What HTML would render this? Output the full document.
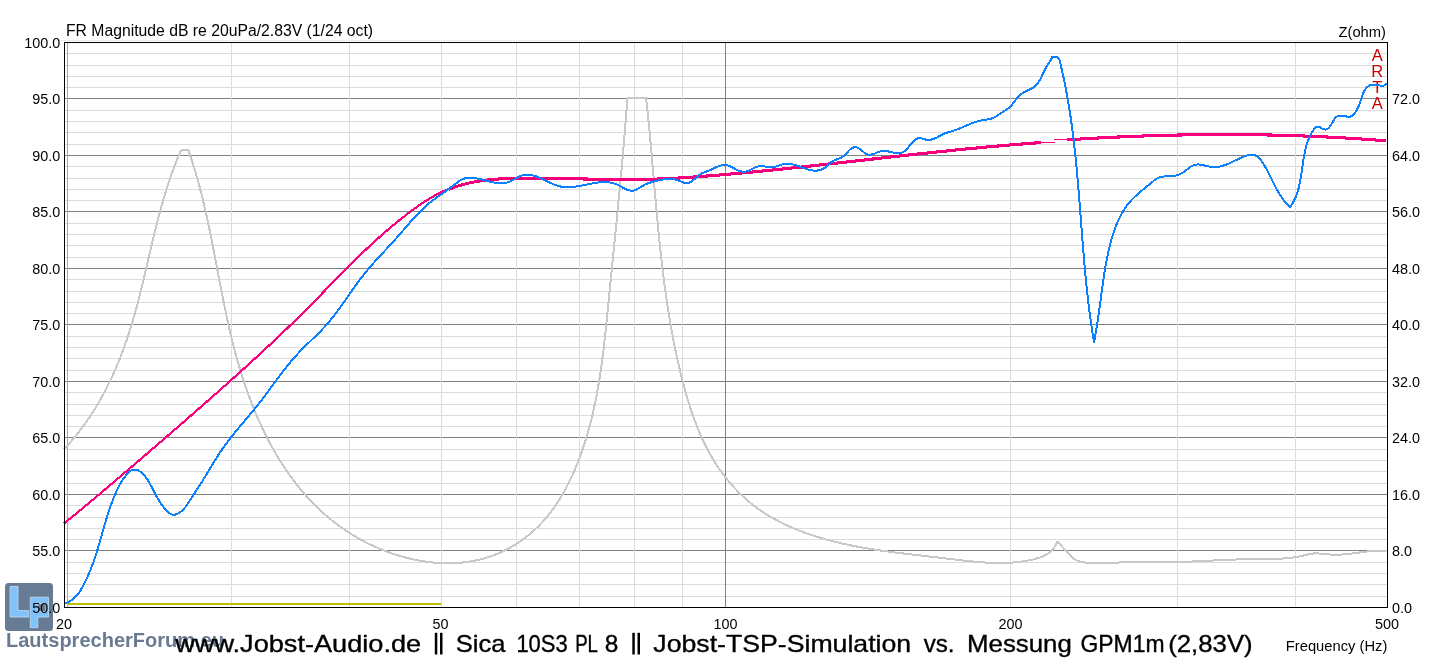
<!DOCTYPE html>
<html><head><meta charset="utf-8"><title>ARTA FR</title>
<style>
html,body{margin:0;padding:0;background:#fff;width:1451px;height:658px;overflow:hidden}
svg{display:block}
text{font-family:"Liberation Sans", sans-serif}
</style></head><body>
<svg width="1451" height="658" viewBox="0 0 1451 658">
<rect width="1451" height="658" fill="#fff"/>

<line x1="56" y1="40.5" x2="1385" y2="40.5" stroke="#ececec" stroke-width="1" shape-rendering="crispEdges"/>
<g shape-rendering="crispEdges" stroke-width="1">
<line x1="65" y1="596.5" x2="1387" y2="596.5" stroke="#dcdcdc"/>
<line x1="65" y1="584.5" x2="1387" y2="584.5" stroke="#dcdcdc"/>
<line x1="65" y1="573.5" x2="1387" y2="573.5" stroke="#dcdcdc"/>
<line x1="65" y1="562.5" x2="1387" y2="562.5" stroke="#dcdcdc"/>
<line x1="65" y1="550.5" x2="1387" y2="550.5" stroke="#808080"/>
<line x1="65" y1="539.5" x2="1387" y2="539.5" stroke="#dcdcdc"/>
<line x1="65" y1="528.5" x2="1387" y2="528.5" stroke="#dcdcdc"/>
<line x1="65" y1="517.5" x2="1387" y2="517.5" stroke="#dcdcdc"/>
<line x1="65" y1="505.5" x2="1387" y2="505.5" stroke="#dcdcdc"/>
<line x1="65" y1="494.5" x2="1387" y2="494.5" stroke="#808080"/>
<line x1="65" y1="483.5" x2="1387" y2="483.5" stroke="#dcdcdc"/>
<line x1="65" y1="471.5" x2="1387" y2="471.5" stroke="#dcdcdc"/>
<line x1="65" y1="460.5" x2="1387" y2="460.5" stroke="#dcdcdc"/>
<line x1="65" y1="449.5" x2="1387" y2="449.5" stroke="#dcdcdc"/>
<line x1="65" y1="437.5" x2="1387" y2="437.5" stroke="#808080"/>
<line x1="65" y1="426.5" x2="1387" y2="426.5" stroke="#dcdcdc"/>
<line x1="65" y1="415.5" x2="1387" y2="415.5" stroke="#dcdcdc"/>
<line x1="65" y1="404.5" x2="1387" y2="404.5" stroke="#dcdcdc"/>
<line x1="65" y1="392.5" x2="1387" y2="392.5" stroke="#dcdcdc"/>
<line x1="65" y1="381.5" x2="1387" y2="381.5" stroke="#808080"/>
<line x1="65" y1="370.5" x2="1387" y2="370.5" stroke="#dcdcdc"/>
<line x1="65" y1="358.5" x2="1387" y2="358.5" stroke="#dcdcdc"/>
<line x1="65" y1="347.5" x2="1387" y2="347.5" stroke="#dcdcdc"/>
<line x1="65" y1="336.5" x2="1387" y2="336.5" stroke="#dcdcdc"/>
<line x1="65" y1="324.5" x2="1387" y2="324.5" stroke="#808080"/>
<line x1="65" y1="313.5" x2="1387" y2="313.5" stroke="#dcdcdc"/>
<line x1="65" y1="302.5" x2="1387" y2="302.5" stroke="#dcdcdc"/>
<line x1="65" y1="291.5" x2="1387" y2="291.5" stroke="#dcdcdc"/>
<line x1="65" y1="279.5" x2="1387" y2="279.5" stroke="#dcdcdc"/>
<line x1="65" y1="268.5" x2="1387" y2="268.5" stroke="#808080"/>
<line x1="65" y1="257.5" x2="1387" y2="257.5" stroke="#dcdcdc"/>
<line x1="65" y1="245.5" x2="1387" y2="245.5" stroke="#dcdcdc"/>
<line x1="65" y1="234.5" x2="1387" y2="234.5" stroke="#dcdcdc"/>
<line x1="65" y1="223.5" x2="1387" y2="223.5" stroke="#dcdcdc"/>
<line x1="65" y1="211.5" x2="1387" y2="211.5" stroke="#808080"/>
<line x1="65" y1="200.5" x2="1387" y2="200.5" stroke="#dcdcdc"/>
<line x1="65" y1="189.5" x2="1387" y2="189.5" stroke="#dcdcdc"/>
<line x1="65" y1="178.5" x2="1387" y2="178.5" stroke="#dcdcdc"/>
<line x1="65" y1="166.5" x2="1387" y2="166.5" stroke="#dcdcdc"/>
<line x1="65" y1="155.5" x2="1387" y2="155.5" stroke="#808080"/>
<line x1="65" y1="144.5" x2="1387" y2="144.5" stroke="#dcdcdc"/>
<line x1="65" y1="132.5" x2="1387" y2="132.5" stroke="#dcdcdc"/>
<line x1="65" y1="121.5" x2="1387" y2="121.5" stroke="#dcdcdc"/>
<line x1="65" y1="110.5" x2="1387" y2="110.5" stroke="#dcdcdc"/>
<line x1="65" y1="98.5" x2="1387" y2="98.5" stroke="#808080"/>
<line x1="65" y1="87.5" x2="1387" y2="87.5" stroke="#dcdcdc"/>
<line x1="65" y1="76.5" x2="1387" y2="76.5" stroke="#dcdcdc"/>
<line x1="65" y1="65.5" x2="1387" y2="65.5" stroke="#dcdcdc"/>
<line x1="65" y1="53.5" x2="1387" y2="53.5" stroke="#dcdcdc"/>
<line x1="231.5" y1="43" x2="231.5" y2="607" stroke="#dcdcdc"/>
<line x1="349.5" y1="43" x2="349.5" y2="607" stroke="#dcdcdc"/>
<line x1="441.5" y1="43" x2="441.5" y2="607" stroke="#dcdcdc"/>
<line x1="516.5" y1="43" x2="516.5" y2="607" stroke="#dcdcdc"/>
<line x1="579.5" y1="43" x2="579.5" y2="607" stroke="#dcdcdc"/>
<line x1="634.5" y1="43" x2="634.5" y2="607" stroke="#dcdcdc"/>
<line x1="682.5" y1="43" x2="682.5" y2="607" stroke="#dcdcdc"/>
<line x1="1010.5" y1="43" x2="1010.5" y2="607" stroke="#dcdcdc"/>
<line x1="1177.5" y1="43" x2="1177.5" y2="607" stroke="#dcdcdc"/>
<line x1="1295.5" y1="43" x2="1295.5" y2="607" stroke="#dcdcdc"/>
<line x1="725.5" y1="43" x2="725.5" y2="607" stroke="#808080"/>
</g>
<g shape-rendering="crispEdges"><rect x="67" y="43" width="1" height="564" fill="#bebe00"/><rect x="67" y="603" width="374" height="2" fill="#bebe00"/></g>
<text x="1377.3" y="61.1" font-size="16.5" text-anchor="middle" fill="#c80000" style="font-family:Liberation Sans">A</text>
<text x="1377.3" y="76.9" font-size="16.5" text-anchor="middle" fill="#c80000" style="font-family:Liberation Sans">R</text>
<text x="1377.3" y="92.5" font-size="16.5" text-anchor="middle" fill="#c80000" style="font-family:Liberation Sans">T</text>
<text x="1377.3" y="108.8" font-size="16.5" text-anchor="middle" fill="#c80000" style="font-family:Liberation Sans">A</text>
<path d="M64.00,449.30 C64.35,448.93 65.40,447.81 66.09,447.05 C66.78,446.30 67.47,445.54 68.15,444.78 C68.83,444.02 69.50,443.26 70.17,442.50 C70.84,441.73 71.50,440.96 72.16,440.19 C72.81,439.42 73.47,438.64 74.11,437.86 C74.76,437.08 75.40,436.30 76.03,435.52 C76.67,434.73 77.30,433.94 77.92,433.15 C78.55,432.36 79.16,431.57 79.78,430.77 C80.39,429.97 81.00,429.17 81.60,428.37 C82.20,427.57 82.80,426.76 83.39,425.95 C83.99,425.14 84.57,424.33 85.15,423.52 C85.74,422.70 86.31,421.88 86.88,421.06 C87.45,420.24 88.02,419.42 88.58,418.59 C89.14,417.77 89.70,416.94 90.25,416.11 C90.80,415.28 91.35,414.44 91.89,413.61 C92.43,412.77 92.97,411.93 93.50,411.09 C94.03,410.25 94.56,409.40 95.08,408.55 C95.60,407.71 96.12,406.86 96.63,406.01 C97.15,405.15 97.65,404.30 98.16,403.44 C98.66,402.58 99.16,401.72 99.65,400.86 C100.15,400.00 100.64,399.14 101.12,398.27 C101.61,397.40 102.09,396.53 102.56,395.66 C103.04,394.79 103.51,393.92 103.98,393.04 C104.44,392.16 104.91,391.29 105.37,390.41 C105.82,389.53 106.28,388.64 106.73,387.76 C107.18,386.87 107.62,385.99 108.07,385.10 C108.51,384.21 108.94,383.32 109.38,382.42 C109.81,381.53 110.24,380.63 110.67,379.74 C111.09,378.84 111.51,377.94 111.93,377.04 C112.35,376.13 112.76,375.23 113.17,374.33 C113.58,373.42 113.98,372.51 114.38,371.60 C114.78,370.69 115.18,369.78 115.58,368.87 C115.97,367.96 116.36,367.04 116.75,366.13 C117.13,365.21 117.51,364.29 117.89,363.37 C118.27,362.45 118.65,361.53 119.02,360.61 C119.39,359.68 119.76,358.76 120.12,357.83 C120.49,356.90 120.85,355.97 121.20,355.04 C121.56,354.11 121.92,353.18 122.27,352.25 C122.62,351.32 122.96,350.38 123.31,349.44 C123.65,348.51 123.99,347.57 124.33,346.63 C124.67,345.69 125.00,344.75 125.33,343.81 C125.66,342.87 125.99,341.92 126.32,340.98 C126.64,340.03 126.96,339.09 127.28,338.14 C127.60,337.19 127.91,336.24 128.22,335.29 C128.54,334.34 128.85,333.39 129.15,332.44 C129.46,331.49 129.76,330.53 130.06,329.58 C130.36,328.62 130.66,327.67 130.96,326.71 C131.25,325.75 131.54,324.80 131.83,323.84 C132.12,322.88 132.41,321.92 132.69,320.96 C132.97,319.99 133.26,319.03 133.53,318.07 C133.81,317.11 134.09,316.14 134.36,315.18 C134.64,314.21 134.91,313.24 135.18,312.28 C135.45,311.31 135.71,310.34 135.98,309.37 C136.24,308.41 136.51,307.44 136.77,306.47 C137.03,305.50 137.29,304.52 137.54,303.55 C137.80,302.58 138.06,301.61 138.31,300.64 C138.56,299.66 138.81,298.69 139.06,297.72 C139.31,296.74 139.56,295.77 139.81,294.79 C140.06,293.81 140.30,292.84 140.55,291.86 C140.79,290.89 141.03,289.91 141.27,288.93 C141.51,287.95 141.75,286.98 141.99,286.00 C142.23,285.02 142.47,284.04 142.71,283.06 C142.94,282.08 143.18,281.10 143.41,280.12 C143.65,279.14 143.88,278.16 144.12,277.18 C144.35,276.20 144.58,275.22 144.81,274.24 C145.05,273.26 145.28,272.28 145.51,271.30 C145.74,270.32 145.97,269.33 146.20,268.35 C146.43,267.37 146.66,266.39 146.89,265.41 C147.12,264.43 147.34,263.44 147.57,262.46 C147.80,261.48 148.03,260.50 148.26,259.52 C148.49,258.54 148.72,257.55 148.94,256.57 C149.17,255.59 149.40,254.61 149.63,253.63 C149.86,252.65 150.09,251.67 150.32,250.68 C150.55,249.70 150.78,248.72 151.01,247.74 C151.24,246.76 151.47,245.78 151.70,244.80 C151.93,243.82 152.16,242.84 152.40,241.86 C152.63,240.88 152.86,239.90 153.10,238.92 C153.33,237.95 153.57,236.97 153.80,235.99 C154.04,235.01 154.27,234.03 154.51,233.06 C154.75,232.08 154.99,231.10 155.23,230.13 C155.47,229.15 155.71,228.18 155.96,227.20 C156.20,226.23 156.44,225.25 156.69,224.28 C156.93,223.30 157.18,222.33 157.43,221.36 C157.68,220.39 157.93,219.42 158.18,218.44 C158.43,217.47 158.69,216.50 158.94,215.53 C159.20,214.56 159.46,213.60 159.72,212.63 C159.98,211.66 160.24,210.69 160.50,209.73 C160.76,208.76 161.03,207.80 161.30,206.83 C161.57,205.87 161.84,204.90 162.11,203.94 C162.38,202.98 162.65,202.02 162.93,201.06 C163.21,200.10 163.49,199.14 163.77,198.18 C164.05,197.22 164.34,196.27 164.62,195.31 C164.91,194.35 165.20,193.40 165.49,192.44 C165.79,191.49 166.08,190.54 166.38,189.59 C166.68,188.64 166.98,187.69 167.29,186.74 C167.59,185.79 167.90,184.84 168.21,183.90 C168.52,182.95 168.83,182.00 169.15,181.06 C169.47,180.12 169.79,179.18 170.11,178.24 C170.44,177.29 170.77,176.36 171.10,175.42 C171.43,174.48 171.76,173.54 172.10,172.61 C172.44,171.68 172.78,170.74 173.13,169.81 C173.47,168.88 173.82,167.95 174.18,167.02 C174.53,166.09 174.89,165.17 175.25,164.24 C175.61,163.32 175.98,162.39 176.35,161.47 C176.72,160.55 177.09,159.63 177.47,158.71 C177.85,157.79 178.23,156.88 178.62,155.96 C179.00,155.05 179.40,154.14 179.79,153.23 C180.19,152.31 180.79,150.95 180.99,150.50 L188.30,150.00 C188.47,150.48 188.97,151.90 189.30,152.86 C189.63,153.81 189.95,154.77 190.28,155.72 C190.60,156.68 190.92,157.63 191.23,158.59 C191.54,159.54 191.86,160.50 192.16,161.46 C192.47,162.41 192.78,163.37 193.08,164.33 C193.38,165.29 193.68,166.25 193.97,167.21 C194.27,168.17 194.56,169.13 194.85,170.09 C195.13,171.05 195.42,172.01 195.70,172.97 C195.99,173.93 196.26,174.89 196.54,175.85 C196.82,176.81 197.09,177.78 197.36,178.74 C197.63,179.70 197.90,180.66 198.17,181.63 C198.43,182.59 198.70,183.56 198.96,184.52 C199.22,185.49 199.48,186.45 199.73,187.42 C199.99,188.38 200.24,189.35 200.49,190.31 C200.74,191.28 200.99,192.25 201.23,193.21 C201.48,194.18 201.72,195.15 201.96,196.11 C202.21,197.08 202.44,198.05 202.68,199.02 C202.92,199.99 203.15,200.95 203.38,201.92 C203.62,202.89 203.85,203.86 204.08,204.83 C204.30,205.80 204.53,206.77 204.76,207.74 C204.98,208.71 205.20,209.68 205.42,210.65 C205.65,211.62 205.86,212.60 206.08,213.57 C206.30,214.54 206.52,215.51 206.73,216.48 C206.94,217.45 207.16,218.43 207.37,219.40 C207.58,220.37 207.79,221.34 208.00,222.32 C208.20,223.29 208.41,224.26 208.62,225.24 C208.82,226.21 209.03,227.19 209.23,228.16 C209.43,229.13 209.63,230.11 209.83,231.08 C210.03,232.06 210.23,233.03 210.43,234.01 C210.63,234.98 210.83,235.96 211.02,236.93 C211.22,237.91 211.42,238.88 211.61,239.86 C211.80,240.83 212.00,241.81 212.19,242.79 C212.38,243.76 212.57,244.74 212.77,245.71 C212.96,246.69 213.15,247.67 213.34,248.64 C213.53,249.62 213.72,250.60 213.91,251.57 C214.09,252.55 214.28,253.53 214.47,254.51 C214.66,255.48 214.85,256.46 215.03,257.44 C215.22,258.42 215.41,259.39 215.59,260.37 C215.78,261.35 215.97,262.33 216.15,263.30 C216.34,264.28 216.52,265.26 216.71,266.24 C216.89,267.22 217.08,268.19 217.27,269.17 C217.45,270.15 217.64,271.13 217.82,272.11 C218.01,273.08 218.20,274.06 218.38,275.04 C218.57,276.02 218.75,277.00 218.94,277.98 C219.13,278.95 219.31,279.93 219.50,280.91 C219.69,281.89 219.88,282.87 220.07,283.85 C220.25,284.82 220.44,285.80 220.63,286.78 C220.82,287.76 221.01,288.74 221.20,289.72 C221.39,290.69 221.58,291.67 221.77,292.65 C221.97,293.63 222.16,294.61 222.35,295.59 C222.55,296.56 222.74,297.54 222.94,298.52 C223.13,299.50 223.33,300.48 223.52,301.45 C223.72,302.43 223.92,303.41 224.12,304.39 C224.32,305.37 224.52,306.34 224.72,307.32 C224.92,308.30 225.12,309.28 225.33,310.25 C225.53,311.23 225.74,312.21 225.94,313.19 C226.15,314.16 226.36,315.14 226.57,316.12 C226.78,317.09 226.99,318.07 227.20,319.05 C227.41,320.02 227.63,321.00 227.84,321.98 C228.06,322.95 228.28,323.93 228.50,324.90 C228.72,325.88 228.94,326.86 229.16,327.83 C229.38,328.81 229.61,329.78 229.83,330.76 C230.06,331.73 230.29,332.71 230.52,333.68 C230.75,334.66 230.98,335.63 231.22,336.61 C231.45,337.58 231.69,338.56 231.92,339.53 C232.16,340.50 232.40,341.48 232.65,342.45 C232.89,343.43 233.14,344.40 233.38,345.37 C233.63,346.34 233.88,347.32 234.14,348.29 C234.39,349.26 234.64,350.23 234.90,351.21 C235.16,352.18 235.42,353.15 235.68,354.12 C235.94,355.09 236.21,356.06 236.48,357.03 C236.75,358.01 237.02,358.98 237.29,359.95 C237.57,360.92 237.84,361.89 238.12,362.86 C238.40,363.82 238.68,364.79 238.97,365.76 C239.25,366.73 239.54,367.70 239.83,368.67 C240.12,369.63 240.42,370.60 240.71,371.57 C241.01,372.53 241.31,373.50 241.61,374.46 C241.92,375.43 242.22,376.39 242.53,377.36 C242.84,378.32 243.15,379.28 243.47,380.24 C243.78,381.21 244.10,382.17 244.42,383.13 C244.74,384.09 245.06,385.04 245.39,386.00 C245.72,386.96 246.05,387.92 246.38,388.87 C246.72,389.83 247.05,390.78 247.39,391.74 C247.73,392.69 248.08,393.64 248.42,394.59 C248.77,395.55 249.12,396.49 249.47,397.44 C249.82,398.39 250.18,399.34 250.54,400.28 C250.90,401.23 251.26,402.17 251.63,403.12 C251.99,404.06 252.36,405.00 252.74,405.94 C253.11,406.88 253.49,407.82 253.87,408.76 C254.25,409.69 254.63,410.63 255.01,411.56 C255.40,412.49 255.79,413.42 256.18,414.35 C256.58,415.28 256.98,416.21 257.38,417.14 C257.78,418.06 258.18,418.99 258.59,419.91 C259.00,420.83 259.41,421.75 259.82,422.67 C260.24,423.59 260.66,424.50 261.08,425.42 C261.50,426.33 261.93,427.24 262.35,428.15 C262.78,429.06 263.22,429.97 263.65,430.88 C264.09,431.78 264.53,432.69 264.98,433.59 C265.42,434.49 265.87,435.39 266.32,436.28 C266.77,437.18 267.23,438.07 267.69,438.96 C268.15,439.85 268.61,440.74 269.08,441.63 C269.54,442.51 270.01,443.40 270.49,444.28 C270.96,445.16 271.44,446.04 271.93,446.91 C272.41,447.79 272.89,448.66 273.39,449.53 C273.88,450.40 274.37,451.27 274.87,452.13 C275.37,452.99 275.87,453.86 276.38,454.71 C276.88,455.57 277.39,456.43 277.91,457.28 C278.42,458.13 278.94,458.98 279.47,459.83 C279.99,460.67 280.52,461.52 281.05,462.36 C281.58,463.20 282.11,464.03 282.65,464.87 C283.19,465.70 283.74,466.53 284.28,467.36 C284.83,468.18 285.38,469.01 285.94,469.83 C286.50,470.65 287.06,471.46 287.62,472.28 C288.19,473.09 288.76,473.90 289.33,474.71 C289.90,475.51 290.48,476.32 291.07,477.11 C291.65,477.91 292.23,478.71 292.83,479.50 C293.42,480.29 294.01,481.08 294.61,481.86 C295.21,482.65 295.82,483.43 296.43,484.20 C297.03,484.98 297.65,485.75 298.27,486.52 C298.88,487.29 299.51,488.05 300.13,488.81 C300.76,489.57 301.39,490.33 302.03,491.08 C302.66,491.84 303.31,492.58 303.95,493.33 C304.60,494.07 305.25,494.81 305.90,495.55 C306.56,496.28 307.21,497.01 307.88,497.74 C308.54,498.47 309.21,499.19 309.88,499.91 C310.56,500.63 311.24,501.34 311.92,502.05 C312.60,502.76 313.29,503.46 313.98,504.16 C314.68,504.86 315.37,505.56 316.08,506.25 C316.78,506.94 317.48,507.63 318.20,508.31 C318.91,508.99 319.63,509.67 320.35,510.34 C321.07,511.01 321.80,511.68 322.53,512.34 C323.26,513.00 324.00,513.66 324.74,514.31 C325.48,514.97 326.22,515.61 326.98,516.26 C327.73,516.90 328.48,517.54 329.25,518.17 C330.01,518.80 330.77,519.43 331.55,520.05 C332.32,520.67 333.10,521.29 333.88,521.90 C334.66,522.51 335.45,523.12 336.24,523.72 C337.03,524.32 337.83,524.92 338.63,525.51 C339.43,526.10 340.24,526.68 341.06,527.26 C341.87,527.84 342.69,528.41 343.51,528.98 C344.34,529.55 345.16,530.11 346.00,530.67 C346.83,531.23 347.67,531.78 348.52,532.32 C349.36,532.87 350.21,533.41 351.07,533.94 C351.93,534.48 352.79,535.00 353.65,535.53 C354.52,536.05 355.39,536.57 356.27,537.08 C357.14,537.59 358.02,538.09 358.91,538.59 C359.80,539.09 360.69,539.58 361.58,540.06 C362.48,540.55 363.38,541.03 364.28,541.50 C365.18,541.97 366.09,542.44 367.01,542.90 C367.92,543.36 368.84,543.81 369.76,544.26 C370.68,544.70 371.60,545.14 372.53,545.57 C373.46,546.01 374.39,546.43 375.33,546.85 C376.26,547.27 377.20,547.68 378.15,548.09 C379.09,548.49 380.04,548.89 380.99,549.28 C381.94,549.67 382.89,550.05 383.85,550.43 C384.80,550.81 385.76,551.18 386.72,551.54 C387.68,551.90 388.65,552.25 389.62,552.60 C390.58,552.94 391.55,553.28 392.53,553.61 C393.50,553.94 394.47,554.27 395.45,554.58 C396.43,554.90 397.41,555.20 398.39,555.50 C399.37,555.80 400.35,556.09 401.34,556.38 C402.33,556.66 403.31,556.93 404.30,557.20 C405.29,557.47 406.28,557.73 407.28,557.98 C408.27,558.23 409.26,558.47 410.26,558.70 C411.25,558.94 412.25,559.16 413.25,559.38 C414.24,559.59 415.24,559.80 416.24,560.00 C417.24,560.20 418.24,560.39 419.25,560.57 C420.25,560.75 421.25,560.93 422.25,561.09 C423.26,561.25 424.26,561.41 425.26,561.55 C426.27,561.70 427.27,561.83 428.28,561.96 C429.28,562.09 430.29,562.21 431.29,562.32 C432.29,562.42 433.30,562.52 434.30,562.61 C435.31,562.70 436.31,562.78 437.32,562.85 C438.32,562.92 439.32,562.98 440.33,563.03 C441.33,563.09 442.33,563.13 443.33,563.16 C444.33,563.19 445.34,563.21 446.34,563.22 C447.34,563.24 448.33,563.24 449.33,563.23 C450.33,563.22 451.33,563.20 452.32,563.17 C453.32,563.14 454.31,563.10 455.30,563.05 C456.30,563.00 457.29,562.94 458.28,562.87 C459.27,562.80 460.25,562.72 461.24,562.63 C462.23,562.54 463.21,562.44 464.19,562.32 C465.17,562.21 466.15,562.09 467.13,561.95 C468.11,561.82 469.08,561.67 470.06,561.52 C471.03,561.36 472.00,561.19 472.97,561.01 C473.93,560.83 474.90,560.64 475.86,560.44 C476.82,560.24 477.78,560.03 478.74,559.81 C479.69,559.58 480.65,559.35 481.60,559.10 C482.55,558.85 483.49,558.59 484.44,558.32 C485.38,558.05 486.32,557.77 487.26,557.48 C488.19,557.19 489.12,556.88 490.05,556.56 C490.98,556.25 491.91,555.92 492.83,555.58 C493.75,555.24 494.67,554.89 495.58,554.52 C496.49,554.16 497.40,553.78 498.30,553.40 C499.21,553.01 500.11,552.62 501.00,552.21 C501.90,551.80 502.79,551.38 503.67,550.95 C504.56,550.52 505.44,550.08 506.32,549.63 C507.19,549.18 508.07,548.72 508.93,548.25 C509.80,547.77 510.66,547.29 511.51,546.80 C512.37,546.31 513.22,545.80 514.06,545.29 C514.91,544.78 515.75,544.26 516.58,543.72 C517.41,543.19 518.24,542.65 519.06,542.09 C519.88,541.54 520.70,540.98 521.51,540.41 C522.32,539.84 523.12,539.26 523.91,538.67 C524.71,538.08 525.50,537.48 526.28,536.87 C527.07,536.26 527.85,535.64 528.62,535.02 C529.39,534.39 530.15,533.75 530.91,533.11 C531.66,532.47 532.41,531.81 533.15,531.15 C533.90,530.49 534.63,529.82 535.36,529.14 C536.09,528.47 536.81,527.78 537.52,527.08 C538.24,526.39 538.94,525.69 539.64,524.98 C540.34,524.27 541.03,523.55 541.71,522.82 C542.39,522.09 543.06,521.36 543.73,520.62 C544.40,519.88 545.05,519.13 545.70,518.37 C546.35,517.62 546.99,516.85 547.63,516.08 C548.26,515.31 548.89,514.53 549.50,513.75 C550.12,512.96 550.73,512.17 551.33,511.37 C551.93,510.58 552.53,509.77 553.11,508.96 C553.70,508.15 554.28,507.33 554.85,506.51 C555.42,505.69 555.99,504.86 556.54,504.03 C557.10,503.19 557.65,502.36 558.19,501.51 C558.74,500.67 559.27,499.82 559.80,498.96 C560.33,498.11 560.85,497.25 561.37,496.38 C561.88,495.52 562.39,494.65 562.89,493.78 C563.39,492.90 563.89,492.03 564.38,491.14 C564.86,490.26 565.35,489.38 565.82,488.49 C566.30,487.60 566.77,486.70 567.23,485.81 C567.69,484.91 568.15,484.01 568.60,483.11 C569.05,482.20 569.50,481.30 569.94,480.39 C570.38,479.48 570.81,478.56 571.24,477.65 C571.66,476.73 572.09,475.82 572.50,474.90 C572.92,473.98 573.33,473.05 573.73,472.13 C574.14,471.20 574.54,470.28 574.93,469.35 C575.33,468.42 575.72,467.49 576.10,466.56 C576.49,465.63 576.87,464.70 577.24,463.76 C577.61,462.83 577.98,461.89 578.35,460.95 C578.71,460.02 579.07,459.08 579.43,458.14 C579.78,457.20 580.13,456.26 580.47,455.31 C580.82,454.37 581.16,453.43 581.49,452.48 C581.83,451.54 582.16,450.59 582.49,449.64 C582.81,448.69 583.14,447.74 583.45,446.79 C583.77,445.84 584.08,444.89 584.39,443.93 C584.70,442.98 585.00,442.03 585.30,441.07 C585.60,440.11 585.90,439.16 586.19,438.20 C586.48,437.24 586.77,436.28 587.05,435.32 C587.33,434.36 587.61,433.40 587.89,432.43 C588.16,431.47 588.43,430.51 588.70,429.54 C588.97,428.58 589.23,427.61 589.49,426.64 C589.75,425.68 590.00,424.71 590.25,423.74 C590.50,422.77 590.75,421.80 591.00,420.83 C591.24,419.85 591.48,418.88 591.72,417.91 C591.95,416.93 592.19,415.96 592.42,414.98 C592.65,414.01 592.87,413.03 593.10,412.06 C593.32,411.08 593.54,410.10 593.75,409.12 C593.97,408.14 594.18,407.16 594.39,406.18 C594.60,405.20 594.81,404.22 595.01,403.24 C595.22,402.25 595.42,401.27 595.61,400.29 C595.81,399.30 596.01,398.32 596.20,397.33 C596.39,396.35 596.58,395.36 596.76,394.37 C596.95,393.39 597.13,392.40 597.31,391.41 C597.49,390.42 597.67,389.43 597.84,388.44 C598.02,387.45 598.19,386.46 598.36,385.47 C598.53,384.48 598.70,383.49 598.86,382.50 C599.03,381.50 599.19,380.51 599.35,379.52 C599.51,378.52 599.66,377.53 599.82,376.54 C599.97,375.54 600.13,374.55 600.28,373.55 C600.43,372.56 600.58,371.56 600.72,370.56 C600.87,369.57 601.01,368.57 601.15,367.57 C601.30,366.58 601.44,365.58 601.57,364.58 C601.71,363.58 601.85,362.58 601.98,361.58 C602.12,360.59 602.25,359.59 602.38,358.59 C602.51,357.59 602.64,356.59 602.77,355.59 C602.90,354.59 603.02,353.59 603.15,352.59 C603.27,351.58 603.39,350.58 603.51,349.58 C603.63,348.58 603.75,347.58 603.87,346.58 C603.99,345.58 604.11,344.57 604.22,343.57 C604.34,342.57 604.45,341.57 604.57,340.57 C604.68,339.56 604.79,338.56 604.90,337.56 C605.01,336.56 605.12,335.55 605.23,334.55 C605.34,333.55 605.45,332.54 605.56,331.54 C605.66,330.54 605.77,329.53 605.87,328.53 C605.98,327.53 606.08,326.53 606.19,325.52 C606.29,324.52 606.39,323.52 606.50,322.51 C606.60,321.51 606.70,320.51 606.80,319.51 C606.90,318.50 607.00,317.50 607.10,316.50 C607.20,315.50 607.30,314.49 607.40,313.49 C607.50,312.49 607.60,311.49 607.70,310.48 C607.80,309.48 607.90,308.48 607.99,307.48 C608.09,306.48 608.19,305.48 608.29,304.47 C608.39,303.47 608.48,302.47 608.58,301.47 C608.68,300.47 608.78,299.47 608.87,298.47 C608.97,297.47 609.07,296.47 609.17,295.47 C609.27,294.47 609.36,293.47 609.46,292.47 C609.56,291.48 609.66,290.48 609.76,289.48 C609.86,288.48 609.95,287.48 610.05,286.49 C610.15,285.49 610.25,284.49 610.35,283.49 C610.45,282.50 610.55,281.50 610.65,280.50 C610.75,279.51 610.85,278.51 610.94,277.51 C611.04,276.52 611.14,275.52 611.24,274.53 C611.34,273.53 611.44,272.54 611.54,271.54 C611.64,270.55 611.74,269.55 611.84,268.56 C611.94,267.56 612.04,266.57 612.14,265.57 C612.24,264.58 612.34,263.59 612.44,262.59 C612.54,261.60 612.64,260.60 612.73,259.61 C612.83,258.62 612.93,257.62 613.03,256.63 C613.13,255.64 613.23,254.64 613.33,253.65 C613.43,252.66 613.53,251.67 613.63,250.67 C613.73,249.68 613.83,248.69 613.93,247.69 C614.03,246.70 614.13,245.71 614.23,244.72 C614.33,243.73 614.43,242.73 614.53,241.74 C614.63,240.75 614.73,239.76 614.83,238.77 C614.92,237.77 615.02,236.78 615.12,235.79 C615.22,234.80 615.32,233.81 615.42,232.82 C615.52,231.83 615.62,230.83 615.72,229.84 C615.82,228.85 615.91,227.86 616.01,226.87 C616.11,225.88 616.21,224.89 616.31,223.89 C616.41,222.90 616.50,221.91 616.60,220.92 C616.70,219.93 616.80,218.94 616.90,217.95 C617.00,216.96 617.09,215.96 617.19,214.97 C617.29,213.98 617.39,212.99 617.48,212.00 C617.58,211.01 617.68,210.02 617.77,209.03 C617.87,208.03 617.97,207.04 618.07,206.05 C618.16,205.06 618.26,204.07 618.36,203.08 C618.45,202.09 618.55,201.09 618.64,200.10 C618.74,199.11 618.84,198.12 618.93,197.13 C619.03,196.14 619.12,195.14 619.22,194.15 C619.31,193.16 619.41,192.17 619.50,191.17 C619.60,190.18 619.69,189.19 619.79,188.20 C619.88,187.20 619.97,186.21 620.07,185.22 C620.16,184.23 620.26,183.23 620.35,182.24 C620.44,181.25 620.54,180.25 620.63,179.26 C620.72,178.27 620.81,177.27 620.91,176.28 C621.00,175.29 621.09,174.29 621.18,173.30 C621.28,172.30 621.37,171.31 621.46,170.32 C621.55,169.32 621.64,168.33 621.73,167.33 C621.82,166.34 621.91,165.34 622.00,164.35 C622.09,163.35 622.18,162.36 622.27,161.36 C622.36,160.36 622.45,159.37 622.54,158.37 C622.63,157.38 622.72,156.38 622.80,155.38 C622.89,154.39 622.98,153.39 623.07,152.39 C623.16,151.39 623.24,150.40 623.33,149.40 C623.42,148.40 623.50,147.40 623.59,146.40 C623.67,145.41 623.76,144.41 623.85,143.41 C623.93,142.41 624.02,141.41 624.10,140.41 C624.18,139.41 624.27,138.41 624.35,137.41 C624.44,136.41 624.52,135.41 624.60,134.41 C624.69,133.41 624.77,132.41 624.85,131.40 C624.93,130.40 625.01,129.40 625.10,128.40 C625.18,127.39 625.26,126.39 625.34,125.39 C625.42,124.39 625.50,123.38 625.58,122.38 C625.66,121.37 625.74,120.37 625.82,119.37 C625.90,118.36 625.97,117.35 626.05,116.35 C626.13,115.34 626.21,114.34 626.28,113.33 C626.36,112.32 626.44,111.32 626.51,110.31 C626.59,109.30 626.66,108.29 626.74,107.29 C626.81,106.28 626.89,105.27 626.96,104.26 C627.04,103.25 627.11,102.24 627.18,101.23 C627.26,100.22 627.36,98.70 627.40,98.20 L646.10,98.20 C646.16,98.70 646.32,100.19 646.43,101.18 C646.54,102.17 646.65,103.17 646.76,104.16 C646.86,105.16 646.97,106.15 647.08,107.14 C647.18,108.14 647.29,109.13 647.39,110.13 C647.50,111.12 647.60,112.12 647.70,113.11 C647.81,114.11 647.91,115.10 648.01,116.10 C648.11,117.09 648.21,118.09 648.31,119.08 C648.41,120.08 648.51,121.07 648.61,122.07 C648.71,123.06 648.81,124.06 648.90,125.05 C649.00,126.05 649.10,127.05 649.19,128.04 C649.29,129.04 649.38,130.03 649.48,131.03 C649.57,132.03 649.67,133.02 649.76,134.02 C649.86,135.01 649.95,136.01 650.04,137.01 C650.13,138.00 650.23,139.00 650.32,140.00 C650.41,140.99 650.50,141.99 650.59,142.99 C650.68,143.98 650.77,144.98 650.86,145.98 C650.95,146.97 651.04,147.97 651.13,148.97 C651.22,149.96 651.31,150.96 651.40,151.96 C651.49,152.96 651.58,153.95 651.67,154.95 C651.75,155.95 651.84,156.94 651.93,157.94 C652.02,158.94 652.11,159.94 652.19,160.93 C652.28,161.93 652.37,162.93 652.45,163.92 C652.54,164.92 652.63,165.92 652.71,166.92 C652.80,167.91 652.89,168.91 652.97,169.91 C653.06,170.91 653.15,171.90 653.23,172.90 C653.32,173.90 653.40,174.90 653.49,175.89 C653.58,176.89 653.66,177.89 653.75,178.89 C653.83,179.88 653.92,180.88 654.01,181.88 C654.09,182.88 654.18,183.87 654.27,184.87 C654.35,185.87 654.44,186.87 654.52,187.86 C654.61,188.86 654.70,189.86 654.78,190.86 C654.87,191.85 654.96,192.85 655.04,193.85 C655.13,194.85 655.22,195.84 655.31,196.84 C655.39,197.84 655.48,198.84 655.57,199.83 C655.66,200.83 655.75,201.83 655.83,202.82 C655.92,203.82 656.01,204.82 656.10,205.82 C656.19,206.81 656.28,207.81 656.37,208.81 C656.46,209.80 656.55,210.80 656.64,211.80 C656.73,212.79 656.82,213.79 656.91,214.79 C657.00,215.78 657.09,216.78 657.19,217.78 C657.28,218.77 657.37,219.77 657.47,220.77 C657.56,221.76 657.65,222.76 657.75,223.76 C657.84,224.75 657.94,225.75 658.03,226.75 C658.13,227.74 658.22,228.74 658.32,229.73 C658.42,230.73 658.51,231.73 658.61,232.72 C658.71,233.72 658.81,234.71 658.91,235.71 C659.00,236.70 659.10,237.70 659.20,238.69 C659.31,239.69 659.41,240.69 659.51,241.68 C659.61,242.68 659.71,243.67 659.82,244.67 C659.92,245.66 660.02,246.66 660.13,247.65 C660.23,248.64 660.34,249.64 660.45,250.63 C660.55,251.63 660.66,252.62 660.77,253.62 C660.88,254.61 660.99,255.61 661.10,256.60 C661.21,257.59 661.32,258.59 661.43,259.58 C661.54,260.57 661.66,261.57 661.77,262.56 C661.89,263.55 662.00,264.55 662.12,265.54 C662.23,266.53 662.35,267.53 662.47,268.52 C662.59,269.51 662.71,270.50 662.83,271.50 C662.95,272.49 663.07,273.48 663.19,274.47 C663.31,275.46 663.44,276.46 663.56,277.45 C663.69,278.44 663.81,279.43 663.94,280.42 C664.07,281.41 664.20,282.40 664.33,283.40 C664.46,284.39 664.59,285.38 664.72,286.37 C664.85,287.36 664.99,288.35 665.12,289.34 C665.26,290.33 665.39,291.32 665.53,292.31 C665.67,293.30 665.81,294.29 665.95,295.28 C666.09,296.27 666.23,297.26 666.37,298.24 C666.52,299.23 666.66,300.22 666.81,301.21 C666.95,302.20 667.10,303.19 667.25,304.17 C667.40,305.16 667.55,306.15 667.70,307.14 C667.85,308.13 668.01,309.11 668.16,310.10 C668.32,311.09 668.47,312.07 668.63,313.06 C668.79,314.05 668.95,315.03 669.11,316.02 C669.27,317.01 669.43,317.99 669.60,318.98 C669.76,319.96 669.93,320.95 670.10,321.93 C670.27,322.92 670.44,323.90 670.61,324.89 C670.78,325.87 670.95,326.86 671.13,327.84 C671.30,328.82 671.48,329.81 671.66,330.79 C671.84,331.77 672.02,332.76 672.20,333.74 C672.38,334.72 672.56,335.71 672.75,336.69 C672.94,337.67 673.12,338.65 673.31,339.63 C673.50,340.62 673.70,341.60 673.89,342.58 C674.08,343.56 674.28,344.54 674.48,345.52 C674.67,346.50 674.87,347.48 675.07,348.46 C675.28,349.44 675.48,350.42 675.69,351.40 C675.89,352.38 676.10,353.36 676.31,354.34 C676.52,355.32 676.73,356.29 676.94,357.27 C677.16,358.25 677.37,359.23 677.59,360.20 C677.81,361.18 678.03,362.16 678.25,363.14 C678.48,364.11 678.70,365.09 678.93,366.06 C679.16,367.04 679.38,368.02 679.62,368.99 C679.85,369.97 680.08,370.94 680.32,371.92 C680.55,372.89 680.79,373.87 681.03,374.84 C681.27,375.81 681.52,376.79 681.76,377.76 C682.01,378.73 682.26,379.71 682.51,380.68 C682.76,381.65 683.01,382.62 683.26,383.59 C683.52,384.57 683.78,385.54 684.04,386.51 C684.30,387.48 684.56,388.45 684.83,389.42 C685.09,390.39 685.36,391.35 685.63,392.32 C685.91,393.29 686.18,394.26 686.46,395.22 C686.74,396.19 687.02,397.15 687.30,398.12 C687.59,399.08 687.88,400.04 688.17,401.00 C688.46,401.96 688.75,402.92 689.05,403.88 C689.35,404.84 689.65,405.80 689.96,406.75 C690.27,407.71 690.58,408.66 690.89,409.62 C691.20,410.57 691.52,411.52 691.85,412.47 C692.17,413.42 692.49,414.37 692.83,415.31 C693.16,416.26 693.49,417.20 693.83,418.15 C694.17,419.09 694.52,420.03 694.86,420.97 C695.21,421.90 695.57,422.84 695.93,423.77 C696.28,424.71 696.65,425.64 697.02,426.57 C697.38,427.49 697.76,428.42 698.14,429.35 C698.51,430.27 698.90,431.19 699.29,432.11 C699.68,433.03 700.07,433.94 700.47,434.86 C700.87,435.77 701.27,436.68 701.68,437.59 C702.10,438.50 702.51,439.40 702.93,440.31 C703.36,441.21 703.78,442.11 704.22,443.00 C704.65,443.90 705.09,444.79 705.54,445.68 C705.98,446.57 706.44,447.46 706.90,448.34 C707.35,449.22 707.82,450.10 708.29,450.98 C708.76,451.85 709.24,452.73 709.72,453.59 C710.21,454.46 710.70,455.33 711.20,456.19 C711.69,457.05 712.20,457.91 712.71,458.76 C713.22,459.62 713.74,460.47 714.27,461.31 C714.79,462.16 715.32,463.00 715.86,463.84 C716.40,464.68 716.95,465.51 717.50,466.34 C718.05,467.17 718.61,467.99 719.18,468.81 C719.74,469.63 720.32,470.44 720.90,471.25 C721.48,472.06 722.06,472.87 722.66,473.67 C723.25,474.47 723.85,475.27 724.46,476.06 C725.06,476.84 725.68,477.63 726.30,478.41 C726.92,479.19 727.55,479.96 728.18,480.73 C728.81,481.50 729.45,482.26 730.10,483.02 C730.75,483.77 731.40,484.53 732.06,485.27 C732.72,486.01 733.39,486.75 734.06,487.49 C734.74,488.22 735.42,488.95 736.11,489.67 C736.79,490.39 737.49,491.10 738.19,491.81 C738.89,492.51 739.60,493.21 740.31,493.91 C741.02,494.60 741.74,495.29 742.47,495.97 C743.20,496.65 743.93,497.32 744.67,497.99 C745.41,498.65 746.16,499.31 746.91,499.97 C747.66,500.62 748.42,501.26 749.19,501.90 C749.95,502.53 750.72,503.16 751.50,503.79 C752.28,504.41 753.07,505.02 753.86,505.63 C754.65,506.23 755.45,506.83 756.25,507.42 C757.06,508.01 757.87,508.59 758.69,509.17 C759.50,509.74 760.32,510.31 761.15,510.87 C761.98,511.43 762.82,511.98 763.65,512.53 C764.49,513.07 765.34,513.61 766.19,514.14 C767.04,514.67 767.89,515.19 768.75,515.71 C769.62,516.23 770.48,516.73 771.35,517.24 C772.22,517.74 773.10,518.23 773.98,518.72 C774.86,519.21 775.74,519.69 776.63,520.16 C777.52,520.64 778.41,521.10 779.31,521.57 C780.20,522.03 781.10,522.48 782.01,522.93 C782.91,523.37 783.82,523.82 784.73,524.25 C785.65,524.68 786.56,525.11 787.48,525.53 C788.40,525.95 789.32,526.37 790.25,526.78 C791.18,527.19 792.11,527.59 793.04,527.99 C793.97,528.38 794.90,528.77 795.84,529.16 C796.78,529.54 797.72,529.92 798.66,530.29 C799.61,530.67 800.55,531.03 801.50,531.39 C802.45,531.75 803.40,532.11 804.35,532.46 C805.30,532.81 806.25,533.15 807.21,533.49 C808.16,533.83 809.12,534.16 810.08,534.49 C811.04,534.82 812.00,535.14 812.96,535.45 C813.92,535.77 814.89,536.08 815.85,536.39 C816.82,536.69 817.78,536.99 818.75,537.29 C819.71,537.58 820.68,537.88 821.65,538.16 C822.62,538.45 823.58,538.73 824.55,539.00 C825.52,539.28 826.49,539.55 827.46,539.82 C828.43,540.08 829.40,540.34 830.37,540.60 C831.34,540.86 832.31,541.11 833.27,541.36 C834.24,541.60 835.21,541.85 836.18,542.09 C837.15,542.32 838.12,542.56 839.09,542.79 C840.06,543.02 841.03,543.24 842.00,543.47 C842.96,543.69 843.93,543.91 844.90,544.12 C845.87,544.34 846.84,544.55 847.81,544.75 C848.78,544.96 849.75,545.16 850.72,545.36 C851.69,545.56 852.66,545.75 853.63,545.95 C854.60,546.14 855.57,546.33 856.54,546.51 C857.51,546.70 858.48,546.88 859.45,547.06 C860.42,547.24 861.39,547.41 862.36,547.59 C863.33,547.76 864.30,547.93 865.27,548.10 C866.24,548.26 867.22,548.43 868.19,548.59 C869.16,548.75 870.13,548.91 871.11,549.07 C872.08,549.22 873.05,549.38 874.03,549.53 C875.00,549.68 875.97,549.83 876.95,549.97 C877.92,550.12 878.90,550.26 879.87,550.41 C880.85,550.55 881.83,550.69 882.80,550.83 C883.78,550.97 884.76,551.10 885.73,551.24 C886.71,551.37 887.69,551.51 888.67,551.64 C889.65,551.77 890.63,551.90 891.61,552.03 C892.59,552.15 893.57,552.28 894.55,552.41 C895.53,552.53 896.51,552.65 897.50,552.78 C898.48,552.90 899.46,553.02 900.45,553.14 C901.43,553.26 902.42,553.38 903.40,553.50 C904.39,553.62 905.38,553.74 906.36,553.85 C907.35,553.97 908.34,554.09 909.33,554.20 C910.32,554.32 911.31,554.43 912.30,554.55 C913.29,554.66 914.28,554.78 915.27,554.89 C916.27,555.01 917.26,555.12 918.25,555.23 C919.25,555.35 920.24,555.46 921.24,555.57 C922.24,555.69 923.23,555.80 924.23,555.91 C925.23,556.03 926.23,556.14 927.23,556.26 C928.23,556.37 929.23,556.48 930.24,556.60 C931.24,556.71 932.24,556.83 933.25,556.95 C934.25,557.06 935.26,557.18 936.27,557.30 C937.28,557.41 938.28,557.53 939.29,557.65 C940.30,557.77 941.31,557.89 942.33,558.01 C943.34,558.13 944.35,558.25 945.37,558.38 C946.38,558.50 947.40,558.62 948.41,558.75 C949.43,558.87 950.45,558.99 951.47,559.12 C952.48,559.24 953.50,559.36 954.52,559.49 C955.54,559.61 956.56,559.73 957.58,559.85 C958.60,559.97 959.62,560.09 960.64,560.21 C961.67,560.33 962.69,560.45 963.71,560.56 C964.73,560.67 965.75,560.79 966.77,560.90 C967.79,561.01 968.82,561.11 969.84,561.22 C970.86,561.32 971.88,561.42 972.90,561.52 C973.92,561.62 974.94,561.71 975.96,561.80 C976.98,561.89 978.00,561.98 979.01,562.06 C980.03,562.14 981.05,562.22 982.06,562.30 C983.08,562.37 984.09,562.44 985.11,562.50 C986.12,562.56 987.14,562.62 988.15,562.67 C989.16,562.72 990.17,562.77 991.18,562.81 C992.19,562.85 993.19,562.89 994.20,562.91 C995.20,562.94 996.21,562.96 997.21,562.97 C998.21,562.99 999.21,563.00 1000.21,562.99 C1001.21,562.99 1002.20,562.99 1003.20,562.97 C1004.19,562.95 1005.18,562.93 1006.17,562.90 C1007.16,562.86 1008.15,562.82 1009.14,562.77 C1010.12,562.72 1011.10,562.66 1012.08,562.59 C1013.06,562.53 1014.04,562.45 1015.01,562.36 C1015.98,562.27 1016.96,562.18 1017.92,562.07 C1018.89,561.96 1019.86,561.84 1020.82,561.71 C1021.78,561.59 1022.74,561.45 1023.69,561.30 C1024.65,561.15 1025.60,560.99 1026.55,560.81 C1027.50,560.64 1028.44,560.45 1029.38,560.26 C1030.32,560.06 1031.26,559.85 1032.19,559.63 C1033.13,559.41 1034.06,559.18 1034.98,558.93 C1035.91,558.68 1036.83,558.43 1037.74,558.14 C1038.65,557.86 1039.56,557.57 1040.46,557.25 C1041.35,556.93 1042.23,556.58 1043.10,556.20 C1043.96,555.82 1044.81,555.42 1045.64,554.97 C1046.47,554.53 1047.28,554.05 1048.06,553.52 C1048.84,552.99 1049.60,552.42 1050.33,551.80 C1051.06,551.18 1051.76,550.51 1052.42,549.79 C1053.09,549.06 1053.73,548.28 1054.31,547.45 C1054.92,546.59 1055.48,545.68 1055.98,544.73 C1056.51,543.74 1057.17,542.12 1057.40,541.60 C1057.76,541.95 1058.85,542.95 1059.55,543.67 C1060.26,544.39 1060.94,545.14 1061.61,545.90 C1062.30,546.67 1062.96,547.45 1063.63,548.24 C1064.30,549.02 1064.95,549.82 1065.62,550.60 C1066.29,551.37 1066.95,552.16 1067.64,552.91 C1068.32,553.66 1069.00,554.41 1069.71,555.11 C1070.41,555.81 1071.12,556.50 1071.86,557.13 C1072.60,557.76 1073.35,558.36 1074.14,558.89 C1074.92,559.42 1075.73,559.91 1076.58,560.32 C1077.42,560.74 1078.30,561.08 1079.20,561.38 C1080.10,561.67 1081.04,561.90 1081.98,562.09 C1082.94,562.28 1083.91,562.41 1084.89,562.52 C1085.89,562.63 1086.90,562.69 1087.91,562.74 C1088.93,562.79 1089.96,562.80 1090.99,562.81 C1092.03,562.81 1093.07,562.79 1094.11,562.78 C1095.15,562.77 1096.19,562.75 1097.23,562.73 C1098.27,562.71 1099.30,562.70 1100.34,562.68 C1101.37,562.67 1102.41,562.65 1103.44,562.64 C1104.47,562.63 1105.50,562.61 1106.52,562.60 C1107.55,562.59 1108.57,562.58 1109.60,562.57 C1110.62,562.56 1111.64,562.55 1112.66,562.54 C1113.68,562.54 1114.70,562.53 1115.71,562.52 C1116.73,562.51 1117.74,562.51 1118.76,562.50 C1119.77,562.49 1120.78,562.49 1121.79,562.48 C1122.80,562.48 1123.81,562.47 1124.82,562.47 C1125.83,562.46 1126.83,562.46 1127.84,562.45 C1128.84,562.45 1129.85,562.44 1130.85,562.44 C1131.85,562.44 1132.85,562.43 1133.85,562.43 C1134.85,562.42 1135.85,562.42 1136.85,562.41 C1137.85,562.41 1138.85,562.41 1139.84,562.40 C1140.84,562.40 1141.84,562.39 1142.83,562.39 C1143.83,562.38 1144.82,562.38 1145.81,562.37 C1146.81,562.37 1147.80,562.36 1148.79,562.35 C1149.78,562.35 1150.78,562.34 1151.77,562.33 C1152.76,562.33 1153.75,562.32 1154.74,562.31 C1155.73,562.30 1156.72,562.29 1157.71,562.28 C1158.70,562.27 1159.69,562.26 1160.68,562.25 C1161.67,562.24 1162.66,562.23 1163.65,562.21 C1164.63,562.20 1165.62,562.19 1166.61,562.17 C1167.60,562.16 1168.59,562.14 1169.58,562.12 C1170.57,562.11 1171.56,562.09 1172.55,562.07 C1173.54,562.05 1174.52,562.03 1175.51,562.01 C1176.50,561.98 1177.49,561.96 1178.48,561.94 C1179.47,561.91 1180.46,561.89 1181.46,561.86 C1182.45,561.83 1183.44,561.80 1184.43,561.77 C1185.42,561.74 1186.41,561.71 1187.41,561.68 C1188.40,561.65 1189.39,561.61 1190.39,561.57 C1191.38,561.54 1192.38,561.50 1193.38,561.46 C1194.37,561.42 1195.37,561.38 1196.37,561.33 C1197.36,561.29 1198.36,561.25 1199.36,561.20 C1200.36,561.15 1201.36,561.11 1202.36,561.06 C1203.36,561.01 1204.36,560.96 1205.37,560.91 C1206.37,560.86 1207.37,560.81 1208.37,560.76 C1209.38,560.71 1210.38,560.66 1211.39,560.60 C1212.39,560.55 1213.40,560.50 1214.40,560.45 C1215.41,560.40 1216.42,560.35 1217.42,560.30 C1218.43,560.25 1219.44,560.20 1220.44,560.15 C1221.45,560.10 1222.46,560.05 1223.47,560.00 C1224.48,559.96 1225.49,559.91 1226.50,559.87 C1227.51,559.82 1228.52,559.78 1229.53,559.74 C1230.54,559.70 1231.55,559.66 1232.56,559.62 C1233.57,559.58 1234.58,559.54 1235.59,559.51 C1236.60,559.48 1237.62,559.45 1238.63,559.42 C1239.64,559.39 1240.65,559.37 1241.66,559.34 C1242.68,559.32 1243.69,559.30 1244.70,559.28 C1245.72,559.27 1246.73,559.25 1247.74,559.24 C1248.75,559.23 1249.77,559.22 1250.78,559.22 C1251.79,559.21 1252.80,559.21 1253.82,559.20 C1254.83,559.20 1255.84,559.19 1256.85,559.19 C1257.86,559.19 1258.87,559.18 1259.88,559.18 C1260.89,559.17 1261.90,559.17 1262.91,559.16 C1263.91,559.15 1264.92,559.15 1265.93,559.13 C1266.93,559.12 1267.94,559.11 1268.94,559.09 C1269.94,559.07 1270.95,559.05 1271.95,559.02 C1272.95,559.00 1273.95,558.97 1274.94,558.93 C1275.94,558.89 1276.93,558.85 1277.93,558.80 C1278.92,558.75 1279.91,558.70 1280.90,558.64 C1281.89,558.58 1282.88,558.51 1283.86,558.43 C1284.85,558.36 1285.83,558.27 1286.81,558.18 C1287.79,558.08 1288.77,557.98 1289.75,557.87 C1290.72,557.76 1291.69,557.63 1292.66,557.50 C1293.63,557.37 1294.60,557.22 1295.56,557.07 C1296.53,556.91 1297.49,556.75 1298.44,556.57 C1299.40,556.39 1300.36,556.20 1301.31,555.99 C1302.26,555.79 1303.20,555.56 1304.15,555.34 C1305.09,555.11 1306.03,554.85 1306.97,554.62 C1307.91,554.40 1308.85,554.16 1309.79,553.99 C1310.74,553.81 1311.68,553.67 1312.63,553.57 C1313.59,553.48 1314.55,553.43 1315.51,553.41 C1316.48,553.40 1317.46,553.43 1318.43,553.48 C1319.41,553.53 1320.40,553.62 1321.38,553.70 C1322.37,553.79 1323.36,553.90 1324.35,554.00 C1325.35,554.11 1326.34,554.22 1327.33,554.31 C1328.32,554.40 1329.31,554.48 1330.30,554.54 C1331.29,554.60 1332.28,554.65 1333.26,554.67 C1334.25,554.70 1335.23,554.71 1336.21,554.71 C1337.19,554.70 1338.18,554.68 1339.15,554.65 C1340.13,554.61 1341.11,554.57 1342.09,554.51 C1343.07,554.45 1344.04,554.38 1345.02,554.29 C1345.99,554.21 1346.97,554.12 1347.94,554.01 C1348.91,553.91 1349.89,553.80 1350.86,553.68 C1351.83,553.56 1352.80,553.43 1353.78,553.30 C1354.75,553.17 1355.72,553.03 1356.70,552.89 C1357.67,552.76 1358.64,552.62 1359.62,552.48 C1360.59,552.34 1361.57,552.20 1362.55,552.07 C1363.53,551.93 1364.51,551.80 1365.49,551.68 C1366.47,551.56 1367.45,551.44 1368.44,551.33 C1369.42,551.22 1370.41,551.12 1371.40,551.03 C1372.39,550.94 1373.38,550.86 1374.38,550.80 C1375.37,550.74 1376.37,550.69 1377.37,550.66 C1378.38,550.63 1379.38,550.61 1380.39,550.62 C1381.40,550.62 1382.42,550.64 1383.43,550.69 C1384.45,550.74 1385.99,550.87 1386.50,550.90" fill="none" stroke="#c8c8c8" stroke-width="2" stroke-linejoin="round" shape-rendering="crispEdges"/>
<path d="M64.00,523.52 C64.83,522.85 67.33,520.82 69.00,519.47 C70.67,518.11 72.33,516.75 74.00,515.38 C75.67,514.01 77.33,512.64 79.00,511.27 C80.67,509.89 82.33,508.51 84.00,507.13 C85.67,505.75 87.33,504.36 89.00,502.97 C90.67,501.58 92.33,500.18 94.00,498.79 C95.67,497.39 97.33,495.99 99.00,494.58 C100.67,493.18 102.33,491.77 104.00,490.36 C105.67,488.95 107.33,487.54 109.00,486.13 C110.67,484.71 112.33,483.30 114.00,481.88 C115.67,480.46 117.33,479.04 119.00,477.62 C120.67,476.20 122.33,474.78 124.00,473.35 C125.67,471.93 127.33,470.50 129.00,469.08 C130.67,467.65 132.33,466.22 134.00,464.80 C135.67,463.37 137.33,461.94 139.00,460.51 C140.67,459.08 142.33,457.65 144.00,456.22 C145.67,454.79 147.33,453.36 149.00,451.93 C150.67,450.49 152.33,449.06 154.00,447.62 C155.67,446.19 157.33,444.75 159.00,443.31 C160.67,441.88 162.33,440.44 164.00,439.00 C165.67,437.56 167.33,436.12 169.00,434.67 C170.67,433.23 172.33,431.79 174.00,430.34 C175.67,428.90 177.33,427.45 179.00,426.00 C180.67,424.55 182.33,423.10 184.00,421.65 C185.67,420.20 187.33,418.75 189.00,417.29 C190.67,415.84 192.33,414.38 194.00,412.92 C195.67,411.46 197.33,410.00 199.00,408.54 C200.67,407.07 202.33,405.61 204.00,404.14 C205.67,402.68 207.33,401.21 209.00,399.74 C210.67,398.27 212.33,396.79 214.00,395.32 C215.67,393.84 217.33,392.37 219.00,390.89 C220.67,389.41 222.33,387.92 224.00,386.44 C225.67,384.96 227.33,383.47 229.00,381.98 C230.67,380.49 232.33,379.00 234.00,377.50 C235.67,376.01 237.33,374.51 239.00,373.01 C240.67,371.51 242.33,370.01 244.00,368.50 C245.67,366.99 247.33,365.48 249.00,363.97 C250.67,362.45 252.33,360.93 254.00,359.41 C255.67,357.88 257.33,356.35 259.00,354.82 C260.67,353.28 262.33,351.75 264.00,350.20 C265.67,348.66 267.33,347.11 269.00,345.55 C270.67,344.00 272.33,342.43 274.00,340.87 C275.67,339.30 277.34,337.72 279.00,336.14 C280.67,334.56 282.34,332.97 284.00,331.38 C285.67,329.78 287.34,328.18 289.00,326.57 C290.67,324.96 292.34,323.34 294.00,321.72 C295.67,320.09 297.34,318.45 299.00,316.81 C300.67,315.17 302.34,313.52 304.00,311.86 C305.67,310.19 307.34,308.52 309.00,306.85 C310.67,305.17 312.34,303.48 314.00,301.78 C315.67,300.08 317.33,298.37 319.00,296.66 C320.67,294.95 322.33,293.23 324.00,291.51 C325.67,289.79 327.33,288.07 329.00,286.35 C330.67,284.63 332.33,282.91 334.00,281.20 C335.67,279.49 337.33,277.78 339.00,276.07 C340.66,274.38 342.33,272.68 344.00,271.00 C345.66,269.32 347.33,267.65 349.00,265.98 C350.66,264.32 352.33,262.67 354.00,261.03 C355.66,259.40 357.33,257.78 359.00,256.16 C360.66,254.56 362.33,252.96 364.00,251.38 C365.66,249.80 367.33,248.23 369.00,246.67 C370.66,245.12 372.33,243.58 374.00,242.06 C375.66,240.54 377.33,239.03 379.00,237.54 C380.66,236.05 382.33,234.57 384.00,233.11 C385.66,231.66 387.33,230.22 389.00,228.80 C390.66,227.38 392.33,225.98 394.00,224.60 C395.66,223.22 397.33,221.86 399.00,220.51 C400.66,219.17 402.33,217.85 404.00,216.55 C405.66,215.25 407.33,213.97 409.00,212.71 C410.66,211.46 412.33,210.23 414.00,209.02 C415.66,207.82 417.33,206.63 419.00,205.48 C420.66,204.34 422.33,203.21 424.00,202.12 C425.66,201.04 427.32,199.99 429.00,198.97 C430.66,197.96 432.32,196.98 434.00,196.05 C435.66,195.12 437.32,194.22 439.00,193.37 C440.66,192.53 442.32,191.72 444.00,190.96 C445.66,190.21 447.33,189.49 449.00,188.82 C450.66,188.15 452.33,187.52 454.00,186.93 C455.66,186.34 457.33,185.79 459.00,185.27 C460.66,184.76 462.33,184.28 464.00,183.83 C465.66,183.39 467.33,182.98 469.00,182.60 C470.66,182.22 472.33,181.87 474.00,181.55 C475.66,181.23 477.33,180.94 479.00,180.67 C480.66,180.40 482.33,180.16 484.00,179.94 C485.67,179.72 487.33,179.53 489.00,179.35 C490.67,179.18 492.33,179.03 494.00,178.89 C495.67,178.75 497.33,178.63 499.00,178.53 C500.67,178.42 502.33,178.34 504.00,178.26 C505.67,178.18 507.33,178.12 509.00,178.06 C510.67,178.01 512.33,177.96 514.00,177.92 C515.67,177.88 517.33,177.85 519.00,177.83 C520.67,177.80 522.33,177.78 524.00,177.76 C525.67,177.74 527.33,177.73 529.00,177.73 C530.67,177.72 532.33,177.72 534.00,177.72 C535.67,177.72 537.33,177.72 539.00,177.73 C540.67,177.74 542.33,177.75 544.00,177.77 C545.67,177.78 547.33,177.80 549.00,177.82 C550.67,177.85 552.33,177.87 554.00,177.90 C555.67,177.92 557.33,177.95 559.00,177.98 C560.67,178.01 562.33,178.04 564.00,178.08 C565.67,178.11 567.33,178.15 569.00,178.18 C570.67,178.22 572.33,178.26 574.00,178.29 C575.67,178.33 577.33,178.37 579.00,178.41 C580.67,178.45 582.33,178.48 584.00,178.52 C585.67,178.56 587.33,178.60 589.00,178.64 C590.67,178.67 592.33,178.71 594.00,178.74 C595.67,178.78 597.33,178.81 599.00,178.84 C600.67,178.88 602.33,178.91 604.00,178.93 C605.67,178.96 607.33,178.99 609.00,179.01 C610.67,179.04 612.33,179.06 614.00,179.08 C615.67,179.09 617.33,179.11 619.00,179.12 C620.67,179.13 622.33,179.14 624.00,179.15 C625.67,179.15 627.33,179.15 629.00,179.15 C630.67,179.14 632.33,179.14 634.00,179.12 C635.67,179.11 637.33,179.09 639.00,179.07 C640.67,179.05 642.33,179.02 644.00,178.99 C645.67,178.95 647.33,178.92 649.00,178.87 C650.67,178.83 652.33,178.78 654.00,178.72 C655.67,178.67 657.33,178.61 659.00,178.54 C660.67,178.48 662.33,178.41 664.00,178.33 C665.67,178.26 667.33,178.18 669.00,178.09 C670.67,178.01 672.33,177.92 674.00,177.83 C675.67,177.74 677.33,177.64 679.00,177.54 C680.67,177.44 682.33,177.34 684.00,177.23 C685.67,177.12 687.33,177.01 689.00,176.90 C690.67,176.78 692.33,176.67 694.00,176.55 C695.67,176.43 697.33,176.30 699.00,176.18 C700.67,176.05 702.33,175.92 704.00,175.79 C705.67,175.66 707.33,175.53 709.00,175.40 C710.67,175.26 712.33,175.13 714.00,174.99 C715.67,174.85 717.33,174.71 719.00,174.57 C720.67,174.43 722.33,174.28 724.00,174.14 C725.67,174.00 727.33,173.85 729.00,173.70 C730.67,173.55 732.33,173.41 734.00,173.26 C735.67,173.11 737.33,172.95 739.00,172.80 C740.67,172.65 742.33,172.49 744.00,172.34 C745.67,172.18 747.33,172.02 749.00,171.86 C750.67,171.71 752.33,171.55 754.00,171.39 C755.67,171.22 757.33,171.06 759.00,170.90 C760.67,170.74 762.33,170.57 764.00,170.41 C765.67,170.24 767.33,170.07 769.00,169.91 C770.67,169.74 772.33,169.57 774.00,169.40 C775.67,169.23 777.33,169.06 779.00,168.89 C780.67,168.72 782.33,168.54 784.00,168.37 C785.67,168.20 787.33,168.02 789.00,167.85 C790.67,167.67 792.33,167.50 794.00,167.32 C795.67,167.14 797.33,166.96 799.00,166.79 C800.67,166.61 802.33,166.43 804.00,166.25 C805.67,166.07 807.33,165.89 809.00,165.71 C810.67,165.53 812.33,165.34 814.00,165.16 C815.67,164.98 817.33,164.80 819.00,164.61 C820.67,164.43 822.33,164.25 824.00,164.06 C825.67,163.88 827.33,163.69 829.00,163.51 C830.67,163.32 832.33,163.14 834.00,162.95 C835.67,162.76 837.33,162.58 839.00,162.39 C840.67,162.20 842.33,162.02 844.00,161.83 C845.67,161.64 847.33,161.45 849.00,161.27 C850.67,161.08 852.33,160.89 854.00,160.70 C855.67,160.52 857.33,160.33 859.00,160.14 C860.67,159.95 862.33,159.76 864.00,159.58 C865.67,159.39 867.33,159.20 869.00,159.01 C870.67,158.82 872.33,158.64 874.00,158.45 C875.67,158.26 877.33,158.07 879.00,157.88 C880.67,157.70 882.33,157.51 884.00,157.32 C885.67,157.14 887.33,156.95 889.00,156.76 C890.67,156.57 892.33,156.39 894.00,156.20 C895.67,156.02 897.33,155.83 899.00,155.64 C900.67,155.46 902.33,155.27 904.00,155.09 C905.67,154.91 907.33,154.72 909.00,154.54 C910.67,154.35 912.33,154.17 914.00,153.99 C915.67,153.81 917.33,153.62 919.00,153.44 C920.67,153.26 922.33,153.08 924.00,152.90 C925.67,152.72 927.33,152.54 929.00,152.36 C930.67,152.19 932.33,152.01 934.00,151.83 C935.67,151.65 937.33,151.48 939.00,151.30 C940.67,151.13 942.33,150.95 944.00,150.78 C945.67,150.61 947.33,150.43 949.00,150.26 C950.67,150.09 952.33,149.92 954.00,149.75 C955.67,149.58 957.33,149.41 959.00,149.24 C960.67,149.08 962.33,148.91 964.00,148.75 C965.67,148.58 967.33,148.42 969.00,148.25 C970.67,148.09 972.33,147.93 974.00,147.77 C975.67,147.61 977.33,147.45 979.00,147.29 C980.67,147.13 982.33,146.98 984.00,146.82 C985.67,146.67 987.33,146.51 989.00,146.36 C990.67,146.21 992.33,146.06 994.00,145.91 C995.67,145.76 997.33,145.61 999.00,145.46 C1000.67,145.32 1002.33,145.17 1004.00,145.03 C1005.67,144.88 1007.33,144.74 1009.00,144.60 C1010.67,144.46 1012.33,144.32 1014.00,144.19 C1015.67,144.05 1017.33,143.92 1019.00,143.78 C1020.67,143.65 1022.33,143.52 1024.00,143.39 C1025.67,143.26 1027.33,143.13 1029.00,143.01 C1030.67,142.88 1032.33,142.76 1034.00,142.63 C1035.67,142.51 1037.64,142.37 1039.00,142.27 C1039.95,142.21 1041.00,142.13 1041.40,142.11" fill="none" stroke="#fa0080" stroke-width="2.2" stroke-linejoin="round" shape-rendering="crispEdges"/>
<path d="M1067.40,139.38 C1068.23,139.33 1070.73,139.17 1072.40,139.06 C1074.07,138.95 1075.73,138.85 1077.40,138.75 C1079.07,138.65 1080.73,138.55 1082.40,138.45 C1084.07,138.35 1085.73,138.25 1087.40,138.15 C1089.07,138.06 1090.73,137.96 1092.40,137.87 C1094.07,137.78 1095.73,137.69 1097.40,137.60 C1099.07,137.51 1100.73,137.42 1102.40,137.33 C1104.07,137.25 1105.73,137.16 1107.40,137.08 C1109.07,137.00 1110.73,136.92 1112.40,136.84 C1114.07,136.76 1115.73,136.68 1117.40,136.60 C1119.07,136.53 1120.73,136.45 1122.40,136.38 C1124.07,136.30 1125.73,136.23 1127.40,136.16 C1129.07,136.09 1130.73,136.03 1132.40,135.96 C1134.07,135.89 1135.73,135.83 1137.40,135.77 C1139.07,135.70 1140.73,135.64 1142.40,135.58 C1144.07,135.52 1145.73,135.47 1147.40,135.41 C1149.07,135.35 1150.73,135.30 1152.40,135.25 C1154.07,135.19 1155.73,135.14 1157.40,135.09 C1159.07,135.05 1160.73,135.00 1162.40,134.95 C1164.07,134.91 1165.73,134.86 1167.40,134.82 C1169.07,134.78 1170.73,134.74 1172.40,134.70 C1174.07,134.66 1175.73,134.63 1177.40,134.59 C1179.07,134.56 1180.73,134.52 1182.40,134.49 C1184.07,134.46 1185.73,134.43 1187.40,134.40 C1189.07,134.38 1190.73,134.35 1192.40,134.33 C1194.07,134.30 1195.73,134.28 1197.40,134.26 C1199.07,134.24 1200.73,134.22 1202.40,134.20 C1204.07,134.19 1205.73,134.17 1207.40,134.16 C1209.07,134.15 1210.73,134.14 1212.40,134.13 C1214.07,134.12 1215.73,134.11 1217.40,134.10 C1219.07,134.10 1220.73,134.09 1222.40,134.09 C1224.07,134.09 1225.73,134.09 1227.40,134.09 C1229.07,134.10 1230.73,134.10 1232.40,134.11 C1234.07,134.11 1235.73,134.12 1237.40,134.13 C1239.07,134.14 1240.73,134.15 1242.40,134.16 C1244.07,134.18 1245.73,134.19 1247.40,134.21 C1249.07,134.23 1250.73,134.25 1252.40,134.27 C1254.07,134.29 1255.73,134.31 1257.40,134.34 C1259.07,134.36 1260.73,134.39 1262.40,134.42 C1264.07,134.45 1265.73,134.48 1267.40,134.51 C1269.07,134.55 1270.73,134.58 1272.40,134.62 C1274.07,134.66 1275.73,134.69 1277.40,134.74 C1279.07,134.78 1280.73,134.82 1282.40,134.87 C1284.07,134.91 1285.73,134.96 1287.40,135.01 C1289.07,135.06 1290.73,135.11 1292.40,135.16 C1294.07,135.21 1295.73,135.27 1297.40,135.33 C1299.07,135.38 1300.73,135.44 1302.40,135.50 C1304.07,135.57 1305.73,135.63 1307.40,135.70 C1309.07,135.76 1310.73,135.83 1312.40,135.90 C1314.07,135.97 1315.73,136.04 1317.40,136.11 C1319.07,136.19 1320.73,136.26 1322.40,136.34 C1324.07,136.42 1325.73,136.50 1327.40,136.58 C1329.07,136.66 1330.73,136.75 1332.40,136.84 C1334.07,136.92 1335.73,137.01 1337.40,137.10 C1339.07,137.19 1340.73,137.28 1342.40,137.38 C1344.07,137.47 1345.73,137.57 1347.40,137.67 C1349.07,137.77 1350.73,137.87 1352.40,137.98 C1354.07,138.08 1355.73,138.19 1357.40,138.29 C1359.07,138.40 1360.73,138.51 1362.40,138.62 C1364.07,138.74 1365.73,138.85 1367.40,138.97 C1369.07,139.08 1370.73,139.20 1372.40,139.32 C1374.07,139.45 1375.73,139.57 1377.40,139.69 C1379.07,139.82 1380.84,139.96 1382.40,140.08 C1383.78,140.19 1385.65,140.34 1386.30,140.39" fill="none" stroke="#fa0080" stroke-width="2.2" stroke-linejoin="round" shape-rendering="crispEdges"/>
<path d="M449.00,189.82 C449.83,189.50 452.33,188.52 454.00,187.93 C455.66,187.34 457.33,186.79 459.00,186.27 C460.66,185.76 462.33,185.28 464.00,184.83 C465.66,184.39 467.33,183.98 469.00,183.60 C470.66,183.22 472.33,182.87 474.00,182.55 C475.66,182.23 477.33,181.94 479.00,181.67 C480.66,181.40 482.33,181.16 484.00,180.94 C485.67,180.72 487.33,180.53 489.00,180.35 C490.67,180.18 492.33,180.03 494.00,179.89 C495.67,179.75 497.33,179.63 499.00,179.53 C500.67,179.42 502.33,179.34 504.00,179.26 C505.67,179.18 507.33,179.12 509.00,179.06 C510.67,179.01 512.33,178.96 514.00,178.92 C515.67,178.88 517.33,178.85 519.00,178.83 C520.67,178.80 522.33,178.78 524.00,178.76 C525.67,178.74 527.33,178.73 529.00,178.73 C530.67,178.72 532.33,178.72 534.00,178.72 C535.67,178.72 537.33,178.72 539.00,178.73 C540.67,178.74 542.33,178.75 544.00,178.77 C545.67,178.78 547.33,178.80 549.00,178.82 C550.67,178.85 552.33,178.87 554.00,178.90 C555.67,178.92 557.33,178.95 559.00,178.98 C560.67,179.01 562.33,179.04 564.00,179.08 C565.67,179.11 567.33,179.15 569.00,179.18 C570.67,179.22 572.33,179.26 574.00,179.29 C575.67,179.33 577.33,179.37 579.00,179.41 C580.67,179.45 582.33,179.48 584.00,179.52 C585.67,179.56 587.33,179.60 589.00,179.64 C590.67,179.67 592.33,179.71 594.00,179.74 C595.67,179.78 597.33,179.81 599.00,179.84 C600.67,179.88 602.33,179.91 604.00,179.93 C605.67,179.96 607.33,179.99 609.00,180.01 C610.67,180.04 612.33,180.06 614.00,180.08 C615.67,180.09 617.33,180.11 619.00,180.12 C620.67,180.13 622.33,180.14 624.00,180.15 C625.67,180.15 627.33,180.15 629.00,180.15 C630.67,180.14 632.33,180.14 634.00,180.12 C635.67,180.11 637.33,180.09 639.00,180.07 C640.67,180.05 642.33,180.02 644.00,179.99 C645.67,179.95 647.33,179.92 649.00,179.87 C650.67,179.83 652.33,179.78 654.00,179.72 C655.67,179.67 657.33,179.61 659.00,179.54 C660.67,179.48 662.33,179.41 664.00,179.33 C665.67,179.26 667.33,179.18 669.00,179.09 C670.67,179.01 672.33,178.92 674.00,178.83 C675.67,178.74 677.33,178.64 679.00,178.54 C680.67,178.44 682.33,178.34 684.00,178.23 C685.67,178.12 687.33,178.01 689.00,177.90 C690.67,177.78 692.33,177.67 694.00,177.55 C695.67,177.43 697.33,177.30 699.00,177.18 C700.67,177.05 702.33,176.92 704.00,176.79 C705.67,176.66 707.33,176.53 709.00,176.40 C710.67,176.26 712.33,176.13 714.00,175.99 C715.67,175.85 717.33,175.71 719.00,175.57 C720.67,175.43 722.33,175.28 724.00,175.14 C725.67,175.00 727.33,174.85 729.00,174.70 C730.67,174.55 732.33,174.41 734.00,174.26 C735.67,174.11 737.33,173.95 739.00,173.80 C740.67,173.65 742.33,173.49 744.00,173.34 C745.67,173.18 747.33,173.02 749.00,172.86 C750.67,172.71 752.33,172.55 754.00,172.39 C755.67,172.22 757.33,172.06 759.00,171.90 C760.67,171.74 762.33,171.57 764.00,171.41 C765.67,171.24 767.33,171.07 769.00,170.91 C770.67,170.74 772.33,170.57 774.00,170.40 C775.67,170.23 777.33,170.06 779.00,169.89 C780.67,169.72 782.33,169.54 784.00,169.37 C785.67,169.20 787.33,169.02 789.00,168.85 C790.67,168.67 792.33,168.50 794.00,168.32 C795.67,168.14 797.33,167.96 799.00,167.79 C800.67,167.61 802.33,167.43 804.00,167.25 C805.67,167.07 807.33,166.89 809.00,166.71 C810.67,166.53 812.33,166.34 814.00,166.16 C815.67,165.98 817.33,165.80 819.00,165.61 C820.67,165.43 822.33,165.25 824.00,165.06 C825.67,164.88 827.33,164.69 829.00,164.51 C830.67,164.32 832.33,164.14 834.00,163.95 C835.67,163.76 837.33,163.58 839.00,163.39 C840.67,163.20 842.33,163.02 844.00,162.83 C845.67,162.64 847.33,162.45 849.00,162.27 C850.67,162.08 852.33,161.89 854.00,161.70 C855.67,161.52 857.33,161.33 859.00,161.14 C860.67,160.95 862.33,160.76 864.00,160.58 C865.67,160.39 867.33,160.20 869.00,160.01 C870.67,159.82 872.33,159.64 874.00,159.45 C875.67,159.26 877.33,159.07 879.00,158.88 C880.67,158.70 882.33,158.51 884.00,158.32 C885.67,158.14 887.33,157.95 889.00,157.76 C890.67,157.57 892.33,157.39 894.00,157.20 C895.67,157.02 897.33,156.83 899.00,156.64 C900.67,156.46 902.33,156.27 904.00,156.09 C905.67,155.91 907.33,155.72 909.00,155.54 C910.67,155.35 912.33,155.17 914.00,154.99 C915.67,154.81 917.33,154.62 919.00,154.44 C920.67,154.26 922.33,154.08 924.00,153.90 C925.67,153.72 927.33,153.54 929.00,153.36 C930.67,153.19 932.33,153.01 934.00,152.83 C935.67,152.65 937.33,152.48 939.00,152.30 C940.67,152.13 942.33,151.95 944.00,151.78 C945.67,151.61 947.33,151.43 949.00,151.26 C950.67,151.09 952.33,150.92 954.00,150.75 C955.67,150.58 957.33,150.41 959.00,150.24 C960.67,150.08 962.33,149.91 964.00,149.75 C965.67,149.58 967.33,149.42 969.00,149.25 C970.67,149.09 972.33,148.93 974.00,148.77 C975.67,148.61 977.33,148.45 979.00,148.29 C980.67,148.13 982.33,147.98 984.00,147.82 C985.67,147.67 987.33,147.51 989.00,147.36 C990.67,147.21 992.33,147.06 994.00,146.91 C995.67,146.76 997.33,146.61 999.00,146.46 C1000.67,146.32 1002.33,146.17 1004.00,146.03 C1005.67,145.88 1007.33,145.74 1009.00,145.60 C1010.67,145.46 1012.33,145.32 1014.00,145.19 C1015.67,145.05 1017.33,144.92 1019.00,144.78 C1020.67,144.65 1022.33,144.52 1024.00,144.39 C1025.67,144.26 1027.33,144.13 1029.00,144.01 C1030.67,143.88 1032.33,143.76 1034.00,143.63 C1035.67,143.51 1037.64,143.37 1039.00,143.27 C1039.95,143.21 1041.00,143.13 1041.40,143.11" fill="none" stroke="#f00078" stroke-width="2" stroke-linejoin="round" shape-rendering="crispEdges"/>
<path d="M1067.40,140.38 C1068.23,140.33 1070.73,140.17 1072.40,140.06 C1074.07,139.95 1075.73,139.85 1077.40,139.75 C1079.07,139.65 1080.73,139.55 1082.40,139.45 C1084.07,139.35 1085.73,139.25 1087.40,139.15 C1089.07,139.06 1090.73,138.96 1092.40,138.87 C1094.07,138.78 1095.73,138.69 1097.40,138.60 C1099.07,138.51 1100.73,138.42 1102.40,138.33 C1104.07,138.25 1105.73,138.16 1107.40,138.08 C1109.07,138.00 1110.73,137.92 1112.40,137.84 C1114.07,137.76 1115.73,137.68 1117.40,137.60 C1119.07,137.53 1120.73,137.45 1122.40,137.38 C1124.07,137.30 1125.73,137.23 1127.40,137.16 C1129.07,137.09 1130.73,137.03 1132.40,136.96 C1134.07,136.89 1135.73,136.83 1137.40,136.77 C1139.07,136.70 1140.73,136.64 1142.40,136.58 C1144.07,136.52 1145.73,136.47 1147.40,136.41 C1149.07,136.35 1150.73,136.30 1152.40,136.25 C1154.07,136.19 1155.73,136.14 1157.40,136.09 C1159.07,136.05 1160.73,136.00 1162.40,135.95 C1164.07,135.91 1165.73,135.86 1167.40,135.82 C1169.07,135.78 1170.73,135.74 1172.40,135.70 C1174.07,135.66 1175.73,135.63 1177.40,135.59 C1179.07,135.56 1180.73,135.52 1182.40,135.49 C1184.07,135.46 1185.73,135.43 1187.40,135.40 C1189.07,135.38 1190.73,135.35 1192.40,135.33 C1194.07,135.30 1195.73,135.28 1197.40,135.26 C1199.07,135.24 1200.73,135.22 1202.40,135.20 C1204.07,135.19 1205.73,135.17 1207.40,135.16 C1209.07,135.15 1210.73,135.14 1212.40,135.13 C1214.07,135.12 1215.73,135.11 1217.40,135.10 C1219.07,135.10 1220.73,135.09 1222.40,135.09 C1224.07,135.09 1225.73,135.09 1227.40,135.09 C1229.07,135.10 1230.73,135.10 1232.40,135.11 C1234.07,135.11 1235.73,135.12 1237.40,135.13 C1239.07,135.14 1240.73,135.15 1242.40,135.16 C1244.07,135.18 1245.73,135.19 1247.40,135.21 C1249.07,135.23 1250.73,135.25 1252.40,135.27 C1254.07,135.29 1255.73,135.31 1257.40,135.34 C1259.07,135.36 1260.73,135.39 1262.40,135.42 C1264.07,135.45 1265.73,135.48 1267.40,135.51 C1269.07,135.55 1270.73,135.58 1272.40,135.62 C1274.07,135.66 1275.73,135.69 1277.40,135.74 C1279.07,135.78 1280.73,135.82 1282.40,135.87 C1284.07,135.91 1285.73,135.96 1287.40,136.01 C1289.07,136.06 1290.73,136.11 1292.40,136.16 C1294.07,136.21 1295.73,136.27 1297.40,136.33 C1299.07,136.38 1300.73,136.44 1302.40,136.50 C1304.07,136.57 1305.73,136.63 1307.40,136.70 C1309.07,136.76 1310.73,136.83 1312.40,136.90 C1314.07,136.97 1315.73,137.04 1317.40,137.11 C1319.07,137.19 1320.73,137.26 1322.40,137.34 C1324.07,137.42 1325.73,137.50 1327.40,137.58 C1329.07,137.66 1330.73,137.75 1332.40,137.84 C1334.07,137.92 1335.73,138.01 1337.40,138.10 C1339.07,138.19 1340.73,138.28 1342.40,138.38 C1344.07,138.47 1345.73,138.57 1347.40,138.67 C1349.07,138.77 1350.73,138.87 1352.40,138.98 C1354.07,139.08 1355.73,139.19 1357.40,139.29 C1359.07,139.40 1360.73,139.51 1362.40,139.62 C1364.07,139.74 1365.73,139.85 1367.40,139.97 C1369.07,140.08 1370.73,140.20 1372.40,140.32 C1374.07,140.45 1375.73,140.57 1377.40,140.69 C1379.07,140.82 1380.84,140.96 1382.40,141.08 C1383.78,141.19 1385.65,141.34 1386.30,141.39" fill="none" stroke="#fa0080" stroke-width="2" stroke-linejoin="round" shape-rendering="crispEdges"/>
<path d="M1041.4,142.5 L1054.9,142.4 M1054.4,139.5 L1067.4,139.3" fill="none" stroke="#fa0080" stroke-width="1.2" shape-rendering="crispEdges"/>
<path d="M64.00,603.60 C64.48,603.45 65.97,603.05 66.90,602.69 C67.82,602.33 68.70,601.91 69.55,601.44 C70.40,600.98 71.21,600.46 71.99,599.89 C72.76,599.33 73.50,598.72 74.21,598.08 C74.93,597.43 75.61,596.74 76.26,596.02 C76.91,595.30 77.54,594.55 78.14,593.77 C78.74,592.99 79.32,592.18 79.87,591.35 C80.43,590.52 80.96,589.67 81.48,588.80 C82.00,587.94 82.50,587.05 82.99,586.16 C83.48,585.26 83.94,584.35 84.41,583.44 C84.87,582.53 85.32,581.62 85.76,580.70 C86.20,579.78 86.63,578.86 87.05,577.93 C87.48,577.01 87.89,576.08 88.29,575.15 C88.70,574.22 89.09,573.28 89.48,572.35 C89.87,571.41 90.25,570.47 90.62,569.53 C90.99,568.59 91.36,567.64 91.72,566.70 C92.08,565.75 92.43,564.80 92.77,563.85 C93.12,562.90 93.46,561.95 93.79,560.99 C94.12,560.04 94.45,559.08 94.77,558.12 C95.09,557.16 95.41,556.20 95.72,555.24 C96.03,554.28 96.34,553.31 96.64,552.35 C96.94,551.38 97.24,550.42 97.53,549.45 C97.83,548.48 98.12,547.51 98.41,546.54 C98.70,545.57 98.98,544.60 99.26,543.63 C99.55,542.66 99.83,541.69 100.11,540.72 C100.39,539.74 100.66,538.77 100.94,537.80 C101.22,536.83 101.49,535.85 101.77,534.88 C102.04,533.91 102.32,532.93 102.59,531.96 C102.87,530.99 103.14,530.02 103.42,529.05 C103.70,528.07 103.97,527.10 104.25,526.13 C104.53,525.16 104.82,524.19 105.10,523.22 C105.38,522.26 105.67,521.29 105.96,520.32 C106.25,519.36 106.54,518.39 106.83,517.43 C107.13,516.47 107.43,515.50 107.73,514.54 C108.04,513.58 108.34,512.63 108.66,511.67 C108.97,510.71 109.29,509.76 109.61,508.81 C109.94,507.86 110.26,506.91 110.60,505.96 C110.94,505.01 111.28,504.07 111.63,503.12 C111.98,502.18 112.33,501.24 112.69,500.31 C113.06,499.37 113.43,498.44 113.81,497.51 C114.19,496.58 114.58,495.65 114.97,494.73 C115.37,493.80 115.77,492.88 116.19,491.97 C116.61,491.05 117.03,490.14 117.46,489.23 C117.90,488.32 118.34,487.42 118.81,486.52 C119.27,485.63 119.74,484.74 120.23,483.86 C120.72,482.99 121.22,482.12 121.75,481.27 C122.28,480.42 122.82,479.58 123.39,478.76 C123.96,477.94 124.55,477.14 125.17,476.36 C125.79,475.58 126.43,474.82 127.10,474.09 C127.77,473.35 128.47,472.64 129.20,471.96 C129.94,471.28 131.12,470.33 131.50,470.00 L137.80,470.00 C138.22,470.29 139.54,471.10 140.34,471.72 C141.14,472.33 141.90,472.99 142.62,473.69 C143.34,474.38 144.01,475.12 144.66,475.87 C145.30,476.63 145.91,477.43 146.50,478.24 C147.08,479.05 147.63,479.89 148.17,480.74 C148.70,481.59 149.21,482.46 149.71,483.33 C150.20,484.21 150.68,485.10 151.15,485.99 C151.62,486.88 152.07,487.78 152.53,488.67 C152.98,489.56 153.42,490.45 153.88,491.33 C154.32,492.20 154.77,493.08 155.23,493.94 C155.69,494.81 156.15,495.66 156.62,496.52 C157.10,497.37 157.58,498.22 158.09,499.07 C158.59,499.92 159.11,500.76 159.65,501.61 C160.20,502.46 160.77,503.31 161.36,504.15 C161.96,505.01 162.58,505.87 163.23,506.72 C163.90,507.59 164.58,508.48 165.30,509.31 C166.03,510.14 166.77,510.98 167.57,511.70 C168.35,512.40 169.15,513.09 170.02,513.59 C170.84,514.07 171.72,514.49 172.61,514.66 C173.50,514.82 174.45,514.79 175.34,514.60 C176.28,514.41 177.22,513.97 178.10,513.49 C179.02,513.01 179.90,512.36 180.73,511.71 C181.56,511.06 182.34,510.34 183.07,509.60 C183.80,508.88 184.48,508.11 185.13,507.33 C185.78,506.55 186.38,505.74 186.97,504.93 C187.55,504.11 188.11,503.28 188.66,502.44 C189.21,501.60 189.73,500.75 190.26,499.91 C190.80,499.06 191.32,498.22 191.86,497.37 C192.39,496.53 192.93,495.69 193.47,494.85 C194.01,494.02 194.55,493.18 195.10,492.34 C195.64,491.51 196.19,490.67 196.73,489.84 C197.27,489.00 197.82,488.17 198.36,487.33 C198.90,486.49 199.45,485.66 199.99,484.81 C200.52,483.97 201.06,483.13 201.60,482.29 C202.13,481.44 202.66,480.59 203.19,479.74 C203.71,478.89 204.24,478.03 204.76,477.18 C205.28,476.32 205.80,475.46 206.32,474.60 C206.84,473.75 207.36,472.89 207.88,472.02 C208.40,471.16 208.91,470.30 209.43,469.44 C209.95,468.58 210.47,467.72 210.99,466.86 C211.50,466.00 212.02,465.14 212.55,464.28 C213.07,463.42 213.59,462.56 214.12,461.71 C214.65,460.85 215.17,460.00 215.71,459.15 C216.24,458.29 216.77,457.45 217.31,456.60 C217.85,455.75 218.40,454.91 218.95,454.07 C219.49,453.23 220.05,452.40 220.61,451.57 C221.17,450.74 221.73,449.91 222.30,449.09 C222.87,448.27 223.45,447.45 224.03,446.64 C224.61,445.83 225.20,445.02 225.79,444.21 C226.39,443.41 226.99,442.61 227.59,441.81 C228.19,441.02 228.80,440.22 229.41,439.43 C230.02,438.64 230.64,437.86 231.25,437.07 C231.87,436.29 232.50,435.51 233.12,434.73 C233.75,433.95 234.37,433.17 235.01,432.40 C235.64,431.63 236.27,430.85 236.91,430.08 C237.54,429.31 238.18,428.54 238.82,427.77 C239.46,427.01 240.10,426.24 240.74,425.47 C241.39,424.71 242.03,423.94 242.67,423.18 C243.32,422.41 243.96,421.65 244.61,420.88 C245.25,420.12 245.90,419.35 246.54,418.59 C247.19,417.82 247.83,417.06 248.48,416.29 C249.12,415.52 249.76,414.76 250.40,413.99 C251.05,413.22 251.69,412.45 252.32,411.68 C252.96,410.91 253.60,410.13 254.23,409.36 C254.87,408.58 255.50,407.81 256.13,407.03 C256.76,406.25 257.38,405.47 258.01,404.68 C258.63,403.90 259.25,403.11 259.87,402.32 C260.48,401.53 261.10,400.74 261.71,399.94 C262.32,399.15 262.92,398.35 263.53,397.55 C264.14,396.75 264.74,395.95 265.34,395.15 C265.94,394.34 266.54,393.54 267.14,392.74 C267.74,391.93 268.34,391.12 268.93,390.32 C269.53,389.51 270.12,388.70 270.72,387.89 C271.31,387.09 271.91,386.28 272.50,385.47 C273.10,384.66 273.69,383.85 274.29,383.05 C274.88,382.24 275.48,381.43 276.08,380.62 C276.67,379.82 277.27,379.01 277.87,378.21 C278.47,377.41 279.07,376.60 279.67,375.80 C280.27,375.00 280.88,374.20 281.48,373.40 C282.09,372.61 282.70,371.81 283.31,371.02 C283.92,370.23 284.54,369.44 285.15,368.65 C285.77,367.86 286.39,367.08 287.02,366.30 C287.64,365.52 288.27,364.74 288.90,363.96 C289.54,363.19 290.17,362.42 290.81,361.65 C291.46,360.89 292.10,360.13 292.75,359.37 C293.40,358.61 294.06,357.86 294.72,357.11 C295.38,356.36 296.05,355.62 296.72,354.88 C297.40,354.14 298.07,353.41 298.76,352.68 C299.45,351.95 300.14,351.23 300.83,350.52 C301.53,349.80 302.23,349.09 302.94,348.38 C303.65,347.67 304.36,346.97 305.07,346.26 C305.78,345.56 306.50,344.86 307.22,344.16 C307.94,343.47 308.66,342.77 309.38,342.08 C310.10,341.38 310.82,340.69 311.54,339.99 C312.26,339.30 312.99,338.60 313.71,337.90 C314.43,337.21 315.14,336.51 315.86,335.81 C316.57,335.11 317.29,334.41 318.00,333.71 C318.70,333.00 319.41,332.29 320.11,331.58 C320.81,330.87 321.51,330.15 322.20,329.43 C322.89,328.71 323.57,327.99 324.25,327.25 C324.92,326.52 325.59,325.78 326.26,325.04 C326.92,324.29 327.57,323.54 328.22,322.78 C328.87,322.03 329.51,321.26 330.14,320.50 C330.77,319.73 331.40,318.95 332.02,318.17 C332.65,317.40 333.26,316.61 333.88,315.83 C334.49,315.04 335.09,314.25 335.70,313.45 C336.30,312.65 336.90,311.85 337.49,311.05 C338.09,310.25 338.68,309.44 339.26,308.64 C339.85,307.83 340.44,307.02 341.02,306.20 C341.60,305.39 342.18,304.57 342.76,303.76 C343.33,302.94 343.91,302.12 344.48,301.30 C345.06,300.48 345.63,299.66 346.20,298.84 C346.78,298.02 347.35,297.19 347.92,296.37 C348.49,295.55 349.07,294.73 349.64,293.91 C350.21,293.08 350.78,292.26 351.36,291.44 C351.93,290.62 352.51,289.80 353.09,288.99 C353.67,288.17 354.25,287.35 354.83,286.54 C355.41,285.72 356.00,284.91 356.58,284.10 C357.17,283.29 357.76,282.48 358.36,281.68 C358.95,280.88 359.55,280.08 360.16,279.28 C360.76,278.48 361.37,277.69 361.98,276.90 C362.59,276.11 363.21,275.32 363.83,274.54 C364.46,273.76 365.09,272.99 365.72,272.21 C366.35,271.44 366.99,270.67 367.63,269.91 C368.28,269.14 368.92,268.38 369.57,267.62 C370.22,266.86 370.88,266.11 371.54,265.36 C372.19,264.60 372.86,263.85 373.52,263.11 C374.18,262.36 374.85,261.61 375.52,260.87 C376.19,260.13 376.86,259.39 377.53,258.65 C378.21,257.91 378.88,257.17 379.56,256.43 C380.23,255.69 380.91,254.96 381.59,254.22 C382.27,253.49 382.95,252.75 383.63,252.02 C384.31,251.28 384.99,250.55 385.67,249.81 C386.35,249.08 387.03,248.34 387.71,247.61 C388.39,246.87 389.07,246.14 389.75,245.40 C390.43,244.66 391.11,243.93 391.78,243.19 C392.46,242.45 393.14,241.71 393.81,240.97 C394.48,240.23 395.15,239.48 395.82,238.74 C396.49,237.99 397.15,237.24 397.82,236.49 C398.48,235.74 399.14,234.99 399.80,234.23 C400.46,233.48 401.11,232.72 401.77,231.96 C402.42,231.21 403.07,230.45 403.73,229.69 C404.38,228.93 405.03,228.17 405.69,227.42 C406.34,226.66 406.99,225.90 407.65,225.15 C408.30,224.39 408.96,223.64 409.62,222.89 C410.27,222.13 410.93,221.38 411.60,220.64 C412.26,219.89 412.93,219.15 413.60,218.41 C414.26,217.67 414.94,216.94 415.62,216.21 C416.29,215.48 416.98,214.76 417.66,214.04 C418.35,213.32 419.04,212.60 419.74,211.90 C420.44,211.19 421.15,210.49 421.86,209.80 C422.57,209.11 423.29,208.42 424.02,207.74 C424.75,207.07 425.48,206.40 426.23,205.74 C426.97,205.08 427.73,204.43 428.49,203.78 C429.25,203.14 430.02,202.51 430.80,201.89 C431.59,201.27 432.38,200.66 433.18,200.05 C433.97,199.45 434.78,198.85 435.59,198.26 C436.41,197.67 437.23,197.09 438.05,196.50 C438.87,195.92 439.70,195.34 440.52,194.76 C441.35,194.18 442.18,193.61 443.01,193.03 C443.85,192.45 444.68,191.87 445.51,191.29 C446.34,190.71 447.17,190.12 447.99,189.53 C448.82,188.94 449.64,188.35 450.46,187.74 C451.28,187.14 452.09,186.53 452.90,185.91 C453.71,185.29 454.50,184.65 455.30,184.02 C456.09,183.39 456.87,182.74 457.68,182.14 C458.47,181.55 459.27,180.96 460.10,180.46 C460.92,179.96 461.76,179.50 462.63,179.15 C463.50,178.79 464.40,178.52 465.31,178.31 C466.22,178.10 467.17,177.97 468.11,177.89 C469.07,177.81 470.04,177.81 471.01,177.84 C472.00,177.87 473.00,177.96 473.99,178.07 C475.00,178.19 476.01,178.36 477.03,178.54 C478.05,178.73 479.07,178.95 480.09,179.18 C481.11,179.40 482.14,179.66 483.16,179.91 C484.18,180.17 485.20,180.43 486.22,180.69 C487.23,180.95 488.24,181.21 489.26,181.45 C490.26,181.70 491.27,181.94 492.28,182.14 C493.27,182.35 494.27,182.55 495.27,182.71 C496.25,182.86 497.24,183.00 498.23,183.08 C499.20,183.16 500.18,183.22 501.15,183.21 C502.12,183.21 503.08,183.16 504.04,183.04 C504.99,182.93 505.94,182.76 506.88,182.52 C507.82,182.28 508.75,181.95 509.67,181.59 C510.60,181.21 511.51,180.75 512.42,180.29 C513.34,179.83 514.24,179.30 515.15,178.81 C516.06,178.32 516.96,177.80 517.88,177.34 C518.78,176.89 519.69,176.43 520.63,176.07 C521.54,175.72 522.47,175.41 523.42,175.19 C524.35,174.98 525.30,174.85 526.25,174.79 C527.20,174.73 528.17,174.76 529.12,174.83 C530.08,174.90 531.05,175.05 532.00,175.24 C532.96,175.43 533.92,175.68 534.87,175.96 C535.82,176.25 536.77,176.58 537.71,176.94 C538.66,177.30 539.60,177.70 540.53,178.11 C541.47,178.52 542.40,178.96 543.33,179.40 C544.26,179.84 545.18,180.31 546.11,180.76 C547.04,181.22 547.97,181.68 548.90,182.13 C549.83,182.58 550.76,183.03 551.69,183.45 C552.62,183.86 553.56,184.27 554.50,184.64 C555.44,185.01 556.38,185.36 557.33,185.66 C558.27,185.96 559.23,186.22 560.19,186.44 C561.15,186.65 562.12,186.81 563.09,186.93 C564.06,187.06 565.04,187.13 566.02,187.18 C567.00,187.22 567.99,187.22 568.98,187.19 C569.97,187.17 570.97,187.10 571.96,187.02 C572.96,186.94 573.97,186.82 574.97,186.69 C575.97,186.56 576.97,186.40 577.98,186.24 C578.99,186.07 579.99,185.89 581.00,185.70 C582.01,185.51 583.02,185.30 584.02,185.10 C585.03,184.89 586.04,184.68 587.05,184.48 C588.05,184.27 589.06,184.06 590.06,183.87 C591.06,183.67 592.06,183.47 593.06,183.30 C594.06,183.12 595.05,182.95 596.05,182.81 C597.03,182.66 598.02,182.53 599.01,182.43 C599.99,182.33 600.97,182.24 601.94,182.19 C602.92,182.14 603.89,182.11 604.86,182.13 C605.82,182.14 606.78,182.18 607.74,182.26 C608.70,182.35 609.65,182.47 610.60,182.64 C611.55,182.81 612.49,183.02 613.43,183.28 C614.37,183.54 615.30,183.85 616.22,184.21 C617.16,184.58 618.08,185.02 618.99,185.47 C619.92,185.93 620.82,186.46 621.73,186.95 C622.64,187.45 623.54,187.98 624.46,188.44 C625.36,188.89 626.26,189.36 627.18,189.71 C628.08,190.05 628.99,190.37 629.90,190.53 C630.81,190.69 631.74,190.78 632.65,190.69 C633.57,190.60 634.51,190.32 635.41,189.98 C636.36,189.61 637.28,189.05 638.20,188.53 C639.15,187.99 640.07,187.35 641.02,186.79 C641.96,186.24 642.89,185.69 643.85,185.20 C644.79,184.72 645.74,184.28 646.69,183.87 C647.64,183.48 648.59,183.12 649.55,182.79 C650.49,182.46 651.45,182.17 652.41,181.89 C653.36,181.62 654.32,181.38 655.28,181.15 C656.23,180.92 657.19,180.72 658.15,180.52 C659.10,180.32 660.06,180.14 661.02,179.96 C661.98,179.78 662.93,179.59 663.89,179.43 C664.85,179.26 665.81,179.08 666.77,178.96 C667.72,178.84 668.68,178.73 669.65,178.71 C670.61,178.69 671.58,178.71 672.54,178.84 C673.52,178.97 674.49,179.21 675.46,179.50 C676.44,179.78 677.41,180.19 678.38,180.56 C679.35,180.93 680.31,181.37 681.27,181.72 C682.22,182.07 683.17,182.44 684.12,182.66 C685.03,182.87 685.97,183.07 686.88,183.05 C687.77,183.03 688.67,182.88 689.52,182.57 C690.40,182.26 691.24,181.70 692.05,181.14 C692.91,180.55 693.70,179.81 694.52,179.10 C695.35,178.38 696.14,177.58 696.98,176.86 C697.80,176.15 698.62,175.42 699.49,174.82 C700.33,174.24 701.21,173.74 702.10,173.29 C702.98,172.86 703.88,172.52 704.79,172.16 C705.69,171.80 706.61,171.51 707.52,171.16 C708.44,170.81 709.35,170.45 710.26,170.05 C711.18,169.65 712.08,169.18 712.99,168.75 C713.91,168.31 714.82,167.83 715.75,167.41 C716.67,167.00 717.60,166.57 718.55,166.24 C719.49,165.90 720.45,165.59 721.43,165.40 C722.40,165.21 723.40,165.08 724.39,165.08 C725.38,165.07 726.39,165.16 727.35,165.36 C728.32,165.55 729.27,165.89 730.19,166.27 C731.12,166.66 732.00,167.18 732.89,167.67 C733.79,168.16 734.66,168.73 735.56,169.22 C736.46,169.70 737.36,170.21 738.30,170.58 C739.23,170.95 740.21,171.27 741.19,171.45 C742.16,171.64 743.19,171.72 744.18,171.69 C745.17,171.66 746.18,171.52 747.15,171.28 C748.11,171.03 749.05,170.64 749.95,170.21 C750.87,169.78 751.72,169.20 752.60,168.72 C753.48,168.25 754.34,167.71 755.25,167.34 C756.15,166.99 757.09,166.72 758.05,166.55 C759.00,166.38 760.00,166.34 760.98,166.32 C761.99,166.31 763.00,166.39 764.02,166.46 C765.04,166.54 766.06,166.67 767.09,166.76 C768.11,166.85 769.13,166.97 770.14,167.00 C771.15,167.04 772.15,167.08 773.13,166.99 C774.10,166.91 775.07,166.75 776.00,166.52 C776.94,166.28 777.83,165.87 778.75,165.56 C779.68,165.25 780.60,164.90 781.55,164.66 C782.51,164.42 783.48,164.24 784.47,164.12 C785.45,164.00 786.45,163.95 787.45,163.95 C788.45,163.95 789.46,164.01 790.45,164.13 C791.45,164.25 792.45,164.44 793.43,164.66 C794.42,164.89 795.40,165.17 796.38,165.47 C797.36,165.77 798.33,166.12 799.30,166.46 C800.27,166.80 801.23,167.18 802.19,167.53 C803.16,167.88 804.12,168.25 805.08,168.58 C806.04,168.91 807.00,169.23 807.97,169.50 C808.93,169.78 809.89,170.03 810.86,170.21 C811.83,170.40 812.80,170.54 813.77,170.60 C814.74,170.67 815.72,170.67 816.68,170.60 C817.63,170.53 818.59,170.39 819.52,170.16 C820.45,169.94 821.37,169.64 822.24,169.25 C823.12,168.86 823.97,168.38 824.77,167.83 C825.58,167.27 826.32,166.57 827.07,165.90 C827.83,165.22 828.52,164.44 829.29,163.77 C830.05,163.11 830.82,162.45 831.66,161.90 C832.48,161.36 833.38,160.93 834.27,160.51 C835.17,160.09 836.11,159.75 837.03,159.38 C837.95,159.01 838.90,158.69 839.80,158.28 C840.70,157.87 841.61,157.46 842.45,156.94 C843.29,156.41 844.09,155.80 844.84,155.12 C845.60,154.43 846.26,153.59 846.97,152.80 C847.67,152.02 848.32,151.15 849.06,150.42 C849.79,149.70 850.53,148.97 851.38,148.46 C852.20,147.96 853.14,147.55 854.07,147.38 C854.99,147.21 856.00,147.21 856.92,147.42 C857.85,147.64 858.76,148.18 859.62,148.73 C860.52,149.30 861.33,150.12 862.18,150.83 C863.02,151.54 863.82,152.37 864.70,152.98 C865.53,153.56 866.38,154.13 867.29,154.42 C868.16,154.70 869.11,154.76 870.03,154.72 C870.97,154.68 871.93,154.42 872.87,154.16 C873.84,153.89 874.81,153.49 875.77,153.12 C876.74,152.76 877.70,152.32 878.67,151.98 C879.62,151.65 880.58,151.30 881.53,151.12 C882.45,150.94 883.38,150.85 884.29,150.86 C885.21,150.88 886.12,151.02 887.03,151.18 C887.96,151.34 888.89,151.60 889.84,151.82 C890.82,152.05 891.82,152.33 892.83,152.53 C893.85,152.75 894.89,152.97 895.92,153.08 C896.94,153.19 897.98,153.28 898.97,153.21 C899.94,153.14 900.93,152.99 901.83,152.68 C902.73,152.36 903.58,151.86 904.37,151.30 C905.19,150.73 905.92,149.99 906.64,149.24 C907.38,148.48 908.06,147.62 908.75,146.78 C909.44,145.93 910.09,145.03 910.78,144.19 C911.46,143.35 912.12,142.50 912.85,141.75 C913.55,141.02 914.26,140.30 915.05,139.75 C915.81,139.21 916.63,138.72 917.50,138.46 C918.37,138.19 919.33,138.10 920.28,138.16 C921.30,138.23 922.38,138.66 923.43,138.92 C924.50,139.18 925.58,139.58 926.63,139.73 C927.64,139.88 928.65,139.91 929.62,139.83 C930.58,139.76 931.52,139.55 932.44,139.30 C933.35,139.04 934.24,138.68 935.12,138.31 C936.01,137.93 936.87,137.47 937.73,137.02 C938.60,136.57 939.45,136.08 940.32,135.62 C941.19,135.16 942.05,134.68 942.94,134.26 C943.83,133.84 944.73,133.45 945.65,133.11 C946.56,132.77 947.51,132.50 948.45,132.22 C949.39,131.93 950.35,131.69 951.29,131.40 C952.24,131.11 953.18,130.81 954.12,130.49 C955.06,130.17 955.99,129.82 956.92,129.47 C957.85,129.11 958.77,128.73 959.70,128.36 C960.62,127.98 961.54,127.58 962.47,127.19 C963.39,126.80 964.31,126.40 965.23,126.01 C966.15,125.62 967.07,125.22 968.00,124.84 C968.92,124.45 969.85,124.07 970.78,123.71 C971.71,123.34 972.64,122.99 973.58,122.65 C974.52,122.32 975.46,122.00 976.41,121.70 C977.36,121.41 978.31,121.14 979.27,120.89 C980.23,120.65 981.20,120.44 982.17,120.25 C983.15,120.07 984.13,119.93 985.11,119.78 C986.09,119.62 987.07,119.50 988.04,119.32 C989.00,119.14 989.96,118.96 990.88,118.69 C991.80,118.42 992.71,118.10 993.58,117.71 C994.46,117.32 995.30,116.83 996.13,116.33 C996.97,115.83 997.78,115.26 998.61,114.71 C999.44,114.16 1000.26,113.57 1001.10,113.02 C1001.94,112.46 1002.81,111.92 1003.66,111.38 C1004.51,110.83 1005.39,110.31 1006.22,109.73 C1007.05,109.17 1007.88,108.60 1008.65,107.96 C1009.41,107.33 1010.14,106.65 1010.83,105.94 C1011.51,105.22 1012.13,104.44 1012.76,103.66 C1013.38,102.88 1013.97,102.06 1014.57,101.26 C1015.18,100.46 1015.77,99.64 1016.41,98.86 C1017.04,98.08 1017.69,97.31 1018.39,96.59 C1019.08,95.88 1019.81,95.18 1020.58,94.55 C1021.35,93.91 1022.17,93.32 1023.01,92.79 C1023.86,92.25 1024.77,91.80 1025.68,91.35 C1026.58,90.89 1027.53,90.51 1028.45,90.08 C1029.37,89.66 1030.31,89.26 1031.19,88.80 C1032.07,88.33 1032.94,87.86 1033.74,87.29 C1034.53,86.72 1035.28,86.09 1035.97,85.40 C1036.66,84.70 1037.28,83.93 1037.87,83.13 C1038.47,82.32 1039.01,81.46 1039.52,80.58 C1040.04,79.70 1040.52,78.78 1040.99,77.85 C1041.45,76.93 1041.89,75.98 1042.33,75.04 C1042.76,74.10 1043.18,73.15 1043.61,72.22 C1044.04,71.31 1044.45,70.39 1044.90,69.51 C1045.34,68.65 1045.78,67.80 1046.26,66.99 C1046.73,66.20 1047.24,65.46 1047.74,64.70 C1048.25,63.94 1048.79,63.21 1049.30,62.42 C1049.83,61.59 1050.37,60.76 1050.87,59.85 C1051.41,58.86 1052.15,57.22 1052.40,56.70 C1053.22,56.80 1056.10,56.86 1057.30,57.30 C1058.09,57.59 1058.80,58.30 1059.10,58.50 C1059.22,58.99 1059.59,60.45 1059.83,61.42 C1060.08,62.40 1060.31,63.37 1060.55,64.35 C1060.78,65.33 1061.02,66.30 1061.24,67.28 C1061.47,68.26 1061.70,69.23 1061.92,70.21 C1062.15,71.19 1062.37,72.17 1062.58,73.15 C1062.80,74.13 1063.02,75.10 1063.23,76.08 C1063.44,77.06 1063.65,78.04 1063.86,79.03 C1064.06,80.01 1064.27,80.99 1064.47,81.97 C1064.67,82.95 1064.87,83.93 1065.06,84.91 C1065.26,85.90 1065.45,86.88 1065.64,87.86 C1065.83,88.85 1066.02,89.83 1066.20,90.81 C1066.39,91.80 1066.57,92.78 1066.75,93.77 C1066.93,94.75 1067.11,95.74 1067.29,96.72 C1067.46,97.71 1067.64,98.70 1067.81,99.68 C1067.98,100.67 1068.15,101.66 1068.32,102.64 C1068.48,103.63 1068.65,104.62 1068.81,105.61 C1068.97,106.59 1069.13,107.58 1069.29,108.57 C1069.44,109.56 1069.60,110.55 1069.75,111.54 C1069.91,112.53 1070.06,113.52 1070.21,114.51 C1070.36,115.50 1070.50,116.49 1070.65,117.48 C1070.80,118.47 1070.94,119.46 1071.08,120.45 C1071.22,121.44 1071.36,122.43 1071.50,123.43 C1071.64,124.42 1071.77,125.41 1071.91,126.40 C1072.04,127.39 1072.17,128.39 1072.30,129.38 C1072.43,130.37 1072.56,131.37 1072.69,132.36 C1072.81,133.35 1072.94,134.35 1073.06,135.34 C1073.19,136.34 1073.31,137.33 1073.43,138.33 C1073.55,139.32 1073.67,140.32 1073.79,141.31 C1073.90,142.31 1074.02,143.30 1074.13,144.30 C1074.25,145.29 1074.36,146.29 1074.47,147.29 C1074.58,148.28 1074.69,149.28 1074.80,150.28 C1074.91,151.27 1075.02,152.27 1075.12,153.27 C1075.23,154.26 1075.33,155.26 1075.44,156.26 C1075.54,157.26 1075.64,158.25 1075.74,159.25 C1075.85,160.25 1075.95,161.25 1076.04,162.25 C1076.14,163.25 1076.24,164.24 1076.34,165.24 C1076.43,166.24 1076.53,167.24 1076.62,168.24 C1076.72,169.24 1076.81,170.24 1076.90,171.24 C1077.00,172.24 1077.09,173.24 1077.18,174.24 C1077.27,175.24 1077.36,176.24 1077.45,177.24 C1077.54,178.24 1077.63,179.24 1077.71,180.24 C1077.80,181.24 1077.89,182.24 1077.97,183.24 C1078.06,184.24 1078.14,185.24 1078.23,186.24 C1078.31,187.24 1078.40,188.24 1078.48,189.24 C1078.56,190.24 1078.65,191.25 1078.73,192.25 C1078.81,193.25 1078.89,194.25 1078.97,195.25 C1079.05,196.25 1079.13,197.25 1079.21,198.25 C1079.29,199.26 1079.37,200.26 1079.45,201.26 C1079.53,202.26 1079.61,203.26 1079.69,204.26 C1079.77,205.27 1079.84,206.27 1079.92,207.27 C1080.00,208.27 1080.08,209.27 1080.16,210.28 C1080.23,211.28 1080.31,212.28 1080.39,213.28 C1080.46,214.29 1080.54,215.29 1080.62,216.29 C1080.69,217.29 1080.77,218.29 1080.85,219.30 C1080.92,220.30 1081.00,221.30 1081.08,222.30 C1081.15,223.30 1081.23,224.31 1081.31,225.31 C1081.38,226.31 1081.46,227.31 1081.54,228.32 C1081.62,229.32 1081.69,230.32 1081.77,231.32 C1081.85,232.32 1081.92,233.33 1082.00,234.33 C1082.08,235.33 1082.16,236.33 1082.24,237.34 C1082.31,238.34 1082.39,239.34 1082.47,240.34 C1082.55,241.34 1082.63,242.34 1082.71,243.35 C1082.79,244.35 1082.87,245.35 1082.95,246.35 C1083.03,247.35 1083.11,248.36 1083.19,249.36 C1083.27,250.36 1083.36,251.36 1083.44,252.36 C1083.52,253.36 1083.60,254.36 1083.69,255.37 C1083.77,256.37 1083.86,257.37 1083.94,258.37 C1084.03,259.37 1084.11,260.37 1084.20,261.37 C1084.29,262.37 1084.37,263.37 1084.46,264.37 C1084.55,265.37 1084.64,266.37 1084.73,267.37 C1084.82,268.37 1084.91,269.37 1085.00,270.37 C1085.09,271.37 1085.19,272.37 1085.28,273.37 C1085.37,274.37 1085.47,275.37 1085.56,276.37 C1085.66,277.37 1085.76,278.37 1085.85,279.37 C1085.95,280.37 1086.05,281.37 1086.15,282.37 C1086.25,283.37 1086.35,284.36 1086.46,285.36 C1086.56,286.36 1086.66,287.36 1086.77,288.36 C1086.87,289.35 1086.98,290.35 1087.08,291.35 C1087.19,292.35 1087.30,293.35 1087.41,294.34 C1087.52,295.34 1087.63,296.34 1087.75,297.33 C1087.86,298.33 1087.97,299.33 1088.09,300.32 C1088.21,301.32 1088.32,302.31 1088.44,303.31 C1088.56,304.31 1088.68,305.30 1088.80,306.30 C1088.93,307.29 1089.05,308.29 1089.18,309.28 C1089.30,310.28 1089.43,311.27 1089.56,312.26 C1089.69,313.26 1089.82,314.25 1089.95,315.25 C1090.08,316.24 1090.22,317.23 1090.35,318.23 C1090.49,319.22 1090.63,320.21 1090.77,321.21 C1090.91,322.20 1091.05,323.19 1091.19,324.18 C1091.34,325.17 1091.48,326.16 1091.63,327.16 C1091.78,328.15 1091.93,329.14 1092.08,330.13 C1092.23,331.12 1092.38,332.11 1092.54,333.10 C1092.70,334.09 1092.85,335.08 1093.01,336.07 C1093.17,337.06 1093.34,338.05 1093.50,339.04 C1093.67,340.02 1093.92,341.51 1094.00,342.00 C1094.10,341.51 1094.40,340.02 1094.60,339.03 C1094.79,338.04 1094.98,337.05 1095.17,336.06 C1095.36,335.07 1095.54,334.08 1095.71,333.09 C1095.89,332.10 1096.06,331.10 1096.23,330.11 C1096.40,329.12 1096.57,328.12 1096.73,327.13 C1096.89,326.14 1097.05,325.14 1097.21,324.15 C1097.36,323.15 1097.52,322.16 1097.67,321.16 C1097.82,320.17 1097.96,319.17 1098.11,318.17 C1098.26,317.18 1098.40,316.18 1098.54,315.19 C1098.68,314.19 1098.82,313.19 1098.96,312.19 C1099.10,311.20 1099.23,310.20 1099.37,309.20 C1099.50,308.21 1099.64,307.21 1099.77,306.21 C1099.90,305.21 1100.03,304.22 1100.16,303.22 C1100.30,302.22 1100.43,301.22 1100.56,300.22 C1100.69,299.23 1100.82,298.23 1100.95,297.23 C1101.08,296.23 1101.21,295.24 1101.35,294.24 C1101.48,293.24 1101.61,292.24 1101.74,291.25 C1101.88,290.25 1102.01,289.25 1102.15,288.25 C1102.28,287.26 1102.42,286.26 1102.56,285.26 C1102.70,284.27 1102.84,283.27 1102.98,282.27 C1103.12,281.28 1103.26,280.28 1103.41,279.29 C1103.56,278.29 1103.71,277.30 1103.86,276.30 C1104.01,275.31 1104.16,274.31 1104.32,273.32 C1104.48,272.33 1104.64,271.33 1104.80,270.34 C1104.97,269.35 1105.14,268.35 1105.31,267.36 C1105.48,266.37 1105.65,265.38 1105.83,264.39 C1106.01,263.40 1106.19,262.41 1106.38,261.42 C1106.57,260.43 1106.76,259.44 1106.96,258.45 C1107.16,257.46 1107.36,256.48 1107.57,255.49 C1107.77,254.50 1107.99,253.52 1108.21,252.53 C1108.42,251.55 1108.65,250.56 1108.88,249.58 C1109.11,248.59 1109.34,247.61 1109.58,246.63 C1109.83,245.65 1110.08,244.67 1110.33,243.69 C1110.59,242.71 1110.85,241.73 1111.12,240.75 C1111.39,239.77 1111.66,238.80 1111.95,237.82 C1112.23,236.85 1112.52,235.88 1112.83,234.91 C1113.13,233.95 1113.44,232.98 1113.76,232.02 C1114.08,231.06 1114.41,230.10 1114.75,229.15 C1115.09,228.20 1115.45,227.26 1115.81,226.32 C1116.17,225.38 1116.55,224.44 1116.93,223.51 C1117.32,222.59 1117.72,221.67 1118.13,220.75 C1118.55,219.84 1118.97,218.93 1119.41,218.03 C1119.85,217.14 1120.30,216.25 1120.77,215.36 C1121.24,214.48 1121.72,213.61 1122.22,212.75 C1122.72,211.89 1123.23,211.03 1123.76,210.19 C1124.29,209.35 1124.84,208.52 1125.40,207.70 C1125.97,206.88 1126.55,206.07 1127.15,205.28 C1127.74,204.48 1128.36,203.70 1129.00,202.93 C1129.63,202.16 1130.29,201.40 1130.96,200.66 C1131.63,199.92 1132.33,199.19 1133.03,198.47 C1133.74,197.75 1134.47,197.05 1135.21,196.36 C1135.95,195.66 1136.71,194.98 1137.47,194.30 C1138.23,193.63 1139.01,192.96 1139.79,192.30 C1140.57,191.63 1141.36,190.98 1142.15,190.32 C1142.94,189.67 1143.74,189.02 1144.54,188.37 C1145.33,187.72 1146.13,187.08 1146.92,186.43 C1147.72,185.78 1148.51,185.13 1149.29,184.48 C1150.08,183.83 1150.85,183.17 1151.63,182.52 C1152.41,181.89 1153.17,181.24 1153.97,180.64 C1154.75,180.06 1155.54,179.48 1156.37,178.97 C1157.19,178.48 1158.02,178.01 1158.90,177.65 C1159.77,177.29 1160.68,177.01 1161.61,176.80 C1162.55,176.60 1163.53,176.50 1164.51,176.42 C1165.50,176.33 1166.51,176.33 1167.52,176.30 C1168.53,176.26 1169.55,176.28 1170.56,176.22 C1171.57,176.17 1172.58,176.12 1173.57,175.99 C1174.54,175.86 1175.52,175.69 1176.47,175.43 C1177.41,175.18 1178.34,174.86 1179.24,174.47 C1180.15,174.08 1181.04,173.61 1181.90,173.10 C1182.78,172.58 1183.62,171.98 1184.46,171.38 C1185.32,170.78 1186.14,170.11 1186.98,169.49 C1187.82,168.86 1188.64,168.21 1189.50,167.63 C1190.34,167.06 1191.19,166.49 1192.07,166.03 C1192.94,165.58 1193.83,165.17 1194.75,164.90 C1195.67,164.64 1196.63,164.49 1197.59,164.45 C1198.57,164.41 1199.58,164.52 1200.58,164.66 C1201.60,164.80 1202.63,165.05 1203.66,165.28 C1204.69,165.52 1205.73,165.82 1206.77,166.06 C1207.80,166.30 1208.82,166.57 1209.85,166.74 C1210.85,166.91 1211.85,167.04 1212.84,167.09 C1213.82,167.15 1214.79,167.14 1215.75,167.09 C1216.70,167.03 1217.65,166.92 1218.58,166.77 C1219.52,166.62 1220.44,166.41 1221.36,166.18 C1222.28,165.94 1223.19,165.66 1224.09,165.36 C1225.01,165.05 1225.91,164.71 1226.80,164.35 C1227.71,163.99 1228.61,163.60 1229.50,163.21 C1230.41,162.80 1231.31,162.38 1232.21,161.95 C1233.12,161.53 1234.03,161.08 1234.94,160.65 C1235.86,160.21 1236.78,159.76 1237.70,159.32 C1238.64,158.88 1239.57,158.44 1240.52,158.02 C1241.48,157.60 1242.44,157.18 1243.41,156.79 C1244.38,156.41 1245.36,156.02 1246.35,155.72 C1247.32,155.42 1248.30,155.13 1249.27,154.97 C1250.21,154.81 1251.17,154.69 1252.09,154.73 C1252.98,154.77 1253.88,154.91 1254.72,155.18 C1255.56,155.46 1256.36,155.90 1257.12,156.40 C1257.90,156.92 1258.62,157.57 1259.30,158.25 C1260.01,158.96 1260.67,159.77 1261.30,160.59 C1261.95,161.43 1262.55,162.34 1263.13,163.25 C1263.72,164.17 1264.28,165.13 1264.83,166.08 C1265.37,167.03 1265.90,167.99 1266.41,168.94 C1266.92,169.88 1267.42,170.82 1267.91,171.76 C1268.39,172.69 1268.86,173.62 1269.33,174.54 C1269.79,175.46 1270.25,176.37 1270.70,177.28 C1271.15,178.19 1271.59,179.09 1272.04,179.99 C1272.48,180.88 1272.92,181.76 1273.36,182.65 C1273.80,183.53 1274.24,184.40 1274.69,185.27 C1275.13,186.14 1275.58,187.00 1276.03,187.86 C1276.49,188.72 1276.95,189.57 1277.42,190.41 C1277.90,191.26 1278.38,192.10 1278.88,192.93 C1279.37,193.76 1279.88,194.59 1280.41,195.41 C1280.93,196.23 1281.47,197.05 1282.03,197.86 C1282.60,198.67 1283.18,199.47 1283.78,200.27 C1284.38,201.07 1285.01,201.86 1285.66,202.64 C1286.31,203.44 1286.99,204.22 1287.69,204.99 C1288.40,205.77 1289.53,206.91 1289.90,207.30 C1290.19,206.88 1291.08,205.65 1291.62,204.80 C1292.16,203.96 1292.67,203.10 1293.16,202.22 C1293.64,201.35 1294.09,200.47 1294.52,199.57 C1294.95,198.67 1295.35,197.76 1295.73,196.84 C1296.11,195.92 1296.46,194.98 1296.80,194.04 C1297.13,193.10 1297.44,192.15 1297.74,191.19 C1298.03,190.23 1298.30,189.26 1298.56,188.29 C1298.82,187.32 1299.06,186.33 1299.29,185.34 C1299.52,184.35 1299.73,183.36 1299.93,182.36 C1300.13,181.36 1300.32,180.35 1300.50,179.35 C1300.68,178.34 1300.85,177.32 1301.02,176.31 C1301.18,175.29 1301.34,174.27 1301.49,173.25 C1301.65,172.23 1301.80,171.21 1301.94,170.18 C1302.09,169.16 1302.23,168.14 1302.38,167.11 C1302.52,166.09 1302.67,165.07 1302.82,164.04 C1302.97,163.02 1303.12,162.00 1303.27,160.99 C1303.43,159.97 1303.59,158.96 1303.76,157.94 C1303.93,156.94 1304.10,155.93 1304.29,154.93 C1304.47,153.93 1304.67,152.93 1304.88,151.94 C1305.09,150.95 1305.31,149.96 1305.54,148.98 C1305.78,148.01 1306.03,147.04 1306.30,146.07 C1306.56,145.11 1306.85,144.16 1307.15,143.22 C1307.46,142.27 1307.78,141.34 1308.12,140.41 C1308.47,139.49 1308.84,138.58 1309.23,137.67 C1309.62,136.77 1310.04,135.88 1310.48,135.01 C1310.92,134.13 1311.39,133.26 1311.89,132.41 C1312.39,131.56 1312.90,130.70 1313.48,129.91 C1314.04,129.13 1314.59,128.24 1315.29,127.69 C1315.95,127.18 1316.73,126.70 1317.54,126.64 C1318.41,126.58 1319.41,127.11 1320.35,127.49 C1321.37,127.90 1322.39,128.74 1323.41,129.07 C1324.34,129.37 1325.34,129.67 1326.20,129.51 C1327.05,129.35 1327.84,128.77 1328.54,128.18 C1329.30,127.52 1329.92,126.57 1330.55,125.67 C1331.20,124.72 1331.76,123.63 1332.36,122.62 C1332.96,121.61 1333.51,120.55 1334.15,119.62 C1334.76,118.74 1335.36,117.83 1336.11,117.17 C1336.81,116.56 1337.61,116.02 1338.46,115.75 C1339.33,115.48 1340.33,115.53 1341.30,115.58 C1342.31,115.63 1343.37,115.93 1344.40,116.10 C1345.44,116.28 1346.50,116.58 1347.53,116.64 C1348.51,116.71 1349.51,116.76 1350.41,116.52 C1351.28,116.29 1352.11,115.80 1352.84,115.25 C1353.60,114.68 1354.24,113.89 1354.85,113.13 C1355.46,112.35 1356.00,111.48 1356.50,110.61 C1357.00,109.74 1357.45,108.83 1357.87,107.91 C1358.30,106.99 1358.68,106.04 1359.04,105.08 C1359.42,104.12 1359.75,103.14 1360.09,102.15 C1360.43,101.16 1360.75,100.15 1361.09,99.15 C1361.42,98.14 1361.75,97.12 1362.11,96.11 C1362.47,95.11 1362.83,94.10 1363.25,93.14 C1363.67,92.19 1364.10,91.24 1364.61,90.37 C1365.11,89.53 1365.65,88.70 1366.29,87.99 C1366.92,87.29 1367.61,86.64 1368.39,86.14 C1369.18,85.63 1370.07,85.23 1371.02,84.99 C1372.02,84.73 1373.14,84.67 1374.26,84.69 C1375.48,84.72 1376.80,85.02 1378.06,85.19 C1379.32,85.35 1380.63,85.69 1381.81,85.70 C1382.85,85.71 1384.03,85.79 1384.79,85.33 C1385.49,84.91 1386.05,83.56 1386.30,83.20" fill="none" stroke="#0a80ff" stroke-width="2" stroke-linejoin="round" shape-rendering="crispEdges"/>
<rect x="64.5" y="42.5" width="1323" height="565" fill="none" stroke="#000" stroke-width="1" shape-rendering="crispEdges"/>
<text x="66" y="36" font-size="16" textLength="307" lengthAdjust="spacingAndGlyphs" fill="#000">FR Magnitude dB re 20uPa/2.83V (1/24 oct)</text>
<text x="60.2" y="613" font-size="15" text-anchor="end" textLength="28" lengthAdjust="spacingAndGlyphs" fill="#000">50.0</text>
<text x="60.2" y="556" font-size="15" text-anchor="end" textLength="28" lengthAdjust="spacingAndGlyphs" fill="#000">55.0</text>
<text x="60.2" y="500" font-size="15" text-anchor="end" textLength="28" lengthAdjust="spacingAndGlyphs" fill="#000">60.0</text>
<text x="60.2" y="443" font-size="15" text-anchor="end" textLength="28" lengthAdjust="spacingAndGlyphs" fill="#000">65.0</text>
<text x="60.2" y="387" font-size="15" text-anchor="end" textLength="28" lengthAdjust="spacingAndGlyphs" fill="#000">70.0</text>
<text x="60.2" y="330" font-size="15" text-anchor="end" textLength="28" lengthAdjust="spacingAndGlyphs" fill="#000">75.0</text>
<text x="60.2" y="274" font-size="15" text-anchor="end" textLength="28" lengthAdjust="spacingAndGlyphs" fill="#000">80.0</text>
<text x="60.2" y="217" font-size="15" text-anchor="end" textLength="28" lengthAdjust="spacingAndGlyphs" fill="#000">85.0</text>
<text x="60.2" y="161" font-size="15" text-anchor="end" textLength="28" lengthAdjust="spacingAndGlyphs" fill="#000">90.0</text>
<text x="60.2" y="104" font-size="15" text-anchor="end" textLength="28" lengthAdjust="spacingAndGlyphs" fill="#000">95.0</text>
<text x="60.2" y="48" font-size="15" text-anchor="end" textLength="36" lengthAdjust="spacingAndGlyphs" fill="#000">100.0</text>
<text x="1392" y="613" font-size="15" textLength="20" lengthAdjust="spacingAndGlyphs" fill="#000">0.0</text>
<text x="1392" y="556" font-size="15" textLength="20" lengthAdjust="spacingAndGlyphs" fill="#000">8.0</text>
<text x="1392" y="500" font-size="15" textLength="28" lengthAdjust="spacingAndGlyphs" fill="#000">16.0</text>
<text x="1392" y="443" font-size="15" textLength="28" lengthAdjust="spacingAndGlyphs" fill="#000">24.0</text>
<text x="1392" y="387" font-size="15" textLength="28" lengthAdjust="spacingAndGlyphs" fill="#000">32.0</text>
<text x="1392" y="330" font-size="15" textLength="28" lengthAdjust="spacingAndGlyphs" fill="#000">40.0</text>
<text x="1392" y="274" font-size="15" textLength="28" lengthAdjust="spacingAndGlyphs" fill="#000">48.0</text>
<text x="1392" y="217" font-size="15" textLength="28" lengthAdjust="spacingAndGlyphs" fill="#000">56.0</text>
<text x="1392" y="161" font-size="15" textLength="28" lengthAdjust="spacingAndGlyphs" fill="#000">64.0</text>
<text x="1392" y="104" font-size="15" textLength="28" lengthAdjust="spacingAndGlyphs" fill="#000">72.0</text>
<text x="64.0" y="629" font-size="15" text-anchor="middle" textLength="16" lengthAdjust="spacingAndGlyphs" fill="#000">20</text>
<text x="440.6" y="629" font-size="15" text-anchor="middle" textLength="16" lengthAdjust="spacingAndGlyphs" fill="#000">50</text>
<text x="725.5" y="629" font-size="15" text-anchor="middle" textLength="24" lengthAdjust="spacingAndGlyphs" fill="#000">100</text>
<text x="1010.4" y="629" font-size="15" text-anchor="middle" textLength="24" lengthAdjust="spacingAndGlyphs" fill="#000">200</text>
<text x="1387.0" y="629" font-size="15" text-anchor="middle" textLength="24" lengthAdjust="spacingAndGlyphs" fill="#000">500</text>
<text x="1338.5" y="36.7" font-size="15" textLength="47.5" lengthAdjust="spacingAndGlyphs" fill="#000">Z(ohm)</text>
<text x="1285.8" y="650.8" font-size="15" textLength="101.5" lengthAdjust="spacingAndGlyphs" fill="#000">Frequency (Hz)</text>
<text x="6" y="646.7" font-size="20" font-weight="bold" fill="#687b93" textLength="218" lengthAdjust="spacingAndGlyphs">LautsprecherForum.eu</text>
<text x="175.2" y="651.7" font-size="24" textLength="246.0" lengthAdjust="spacingAndGlyphs" fill="#000" stroke="#000" stroke-width="0.35">www.Jobst-Audio.de</text>
<rect x="434.8" y="632.8" width="2.5" height="21.7" fill="#000"/><rect x="440.0" y="632.8" width="2.5" height="21.7" fill="#000"/>
<text x="455.7" y="651.7" font-size="24" textLength="49.7" lengthAdjust="spacingAndGlyphs" fill="#000" stroke="#000" stroke-width="0.35">Sica</text>
<text x="516.4" y="651.7" font-size="24" textLength="51.3" lengthAdjust="spacingAndGlyphs" fill="#000" stroke="#000" stroke-width="0.35">10S3</text>
<text x="575.2" y="651.7" font-size="24" textLength="22.8" lengthAdjust="spacingAndGlyphs" fill="#000" stroke="#000" stroke-width="0.35">PL</text>
<text x="604.7" y="651.7" font-size="24" textLength="13.6" lengthAdjust="spacingAndGlyphs" fill="#000" stroke="#000" stroke-width="0.35">8</text>
<rect x="632.3" y="632.8" width="2.5" height="21.7" fill="#000"/><rect x="637.5" y="632.8" width="2.5" height="21.7" fill="#000"/>
<text x="653.3" y="651.7" font-size="24" textLength="257.9" lengthAdjust="spacingAndGlyphs" fill="#000" stroke="#000" stroke-width="0.35">Jobst-TSP-Simulation</text>
<text x="923.7" y="651.7" font-size="24" textLength="30.9" lengthAdjust="spacingAndGlyphs" fill="#000" stroke="#000" stroke-width="0.35">vs.</text>
<text x="967.1" y="651.7" font-size="24" textLength="104.7" lengthAdjust="spacingAndGlyphs" fill="#000" stroke="#000" stroke-width="0.35">Messung</text>
<text x="1080.5" y="651.7" font-size="24" textLength="84.0" lengthAdjust="spacingAndGlyphs" fill="#000" stroke="#000" stroke-width="0.35">GPM1m</text>
<text x="1168.2" y="651.7" font-size="24" textLength="84.5" lengthAdjust="spacingAndGlyphs" fill="#000" stroke="#000" stroke-width="0.35">(2,83V)</text>
<g style="mix-blend-mode:multiply">
<rect x="5" y="583" width="48" height="48" rx="3.5" fill="#687b94"/>
<path d="M10.1,586.5 h7.9 v24.1 h10.7 v6.4 h-18.6 z" fill="#82c2fb" stroke="#b8d8f2" stroke-width="0.9"/>
<path d="M30.3,597.2 h18.2 v19.8 h-10.7 v10.6 h-7.5 z M37.8,603.5 v8 h8.2 v-8 z" fill="#82c2fb" fill-rule="evenodd" stroke="#b8d8f2" stroke-width="0.9"/>
</g>
</svg>
</body></html>
